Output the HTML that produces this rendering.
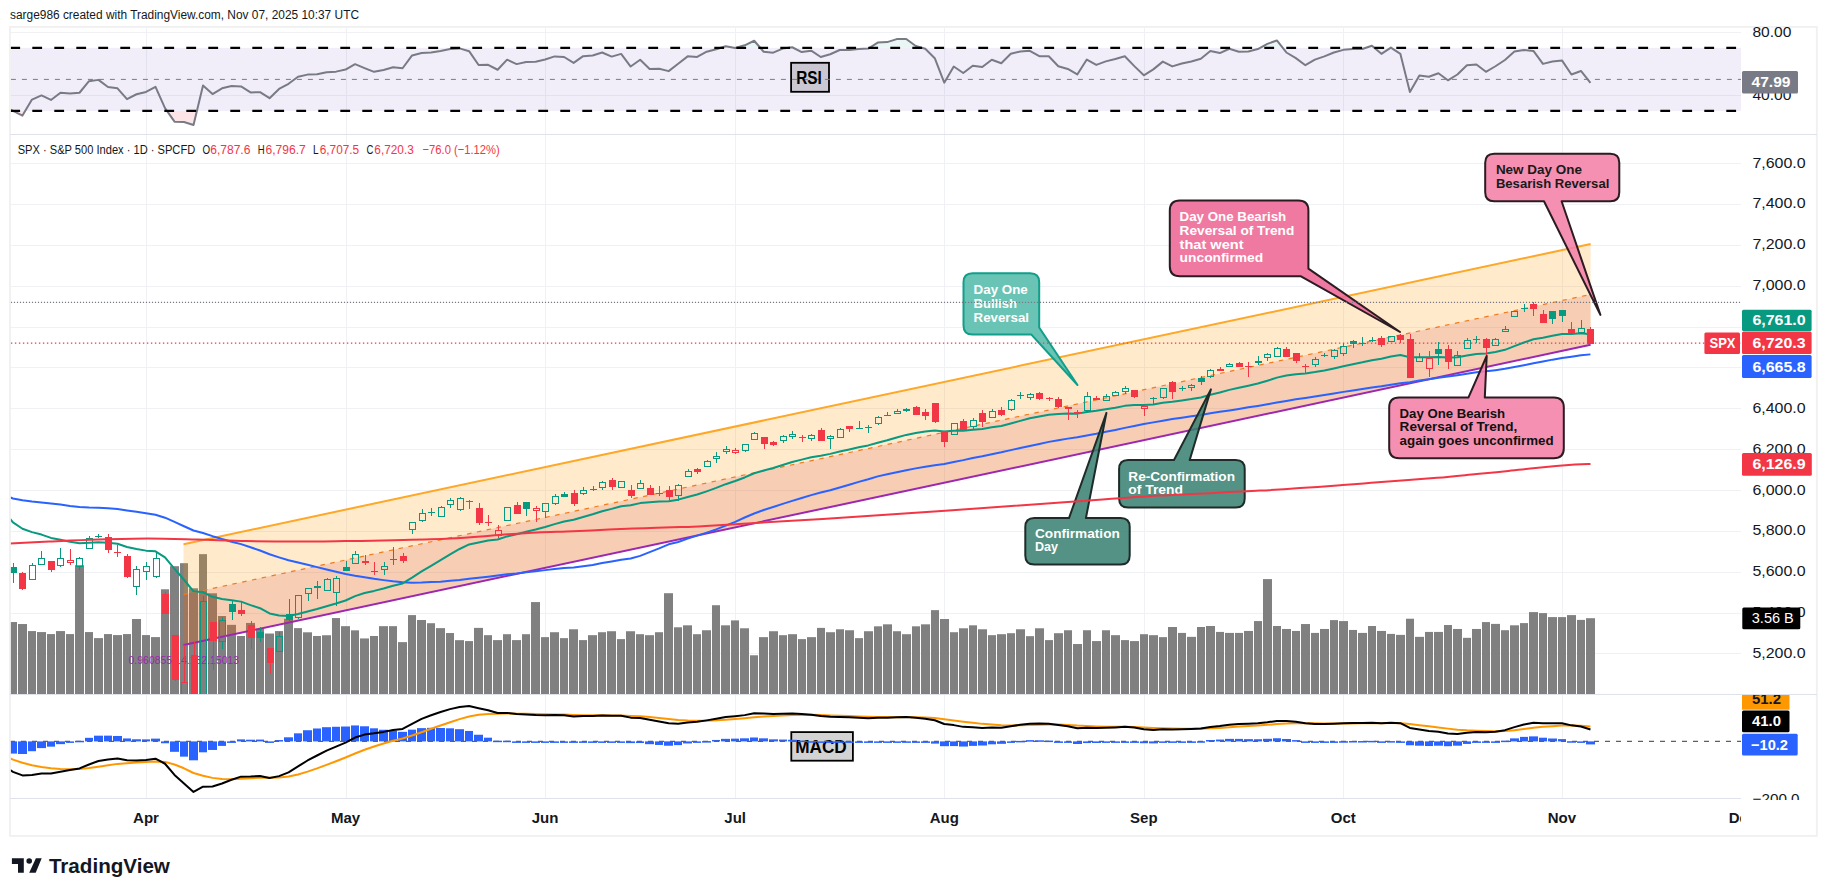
<!DOCTYPE html>
<html><head><meta charset="utf-8"><title>SPX chart</title>
<style>html,body{margin:0;padding:0;background:#fff;}body{width:1827px;height:896px;overflow:hidden;position:relative;font-family:"Liberation Sans", sans-serif;}</style>
</head><body>
<svg width="1827" height="896" viewBox="0 0 1827 896" style="position:absolute;left:0;top:0;font-family:'Liberation Sans', sans-serif">
<defs>
<clipPath id="cpRSI"><rect x="10.9" y="28" width="1730.1" height="105.5"/></clipPath>
<clipPath id="cpMain"><rect x="10.9" y="134.5" width="1730.1" height="559.5"/></clipPath>
<clipPath id="cpMACD"><rect x="10.9" y="694.5" width="1730.1" height="103.5"/></clipPath>
<clipPath id="cpAxR"><rect x="1741" y="695" width="75" height="105"/></clipPath>
<clipPath id="cpTime"><rect x="10.9" y="799" width="1730.1" height="36"/></clipPath>
</defs>
<rect width="1827" height="896" fill="#fff"/>
<text x="10" y="18.7" font-size="12.5" fill="#131722" textLength="349" lengthAdjust="spacingAndGlyphs">sarge986 created with TradingView.com, Nov 07, 2025 10:37 UTC</text>
<rect x="10" y="26.9" width="1806.8" height="809" fill="none" stroke="#F0F0F0" stroke-width="1.8" />
<line x1="146.5" y1="28" x2="146.5" y2="798" stroke="#F0F1F4" stroke-width="1"/>
<line x1="346.5" y1="28" x2="346.5" y2="798" stroke="#F0F1F4" stroke-width="1"/>
<line x1="545.5" y1="28" x2="545.5" y2="798" stroke="#F0F1F4" stroke-width="1"/>
<line x1="735.5" y1="28" x2="735.5" y2="798" stroke="#F0F1F4" stroke-width="1"/>
<line x1="944.5" y1="28" x2="944.5" y2="798" stroke="#F0F1F4" stroke-width="1"/>
<line x1="1144.5" y1="28" x2="1144.5" y2="798" stroke="#F0F1F4" stroke-width="1"/>
<line x1="1343.5" y1="28" x2="1343.5" y2="798" stroke="#F0F1F4" stroke-width="1"/>
<line x1="1562.5" y1="28" x2="1562.5" y2="798" stroke="#F0F1F4" stroke-width="1"/>
<line x1="10.9" y1="32.5" x2="1741" y2="32.5" stroke="#F0F1F4" stroke-width="1"/>
<line x1="10.9" y1="95.5" x2="1741" y2="95.5" stroke="#F0F1F4" stroke-width="1"/>
<line x1="10.9" y1="163.5" x2="1741" y2="163.5" stroke="#F0F1F4" stroke-width="1"/>
<line x1="10.9" y1="204.5" x2="1741" y2="204.5" stroke="#F0F1F4" stroke-width="1"/>
<line x1="10.9" y1="245.5" x2="1741" y2="245.5" stroke="#F0F1F4" stroke-width="1"/>
<line x1="10.9" y1="286.5" x2="1741" y2="286.5" stroke="#F0F1F4" stroke-width="1"/>
<line x1="10.9" y1="327.5" x2="1741" y2="327.5" stroke="#F0F1F4" stroke-width="1"/>
<line x1="10.9" y1="367.5" x2="1741" y2="367.5" stroke="#F0F1F4" stroke-width="1"/>
<line x1="10.9" y1="408.5" x2="1741" y2="408.5" stroke="#F0F1F4" stroke-width="1"/>
<line x1="10.9" y1="449.5" x2="1741" y2="449.5" stroke="#F0F1F4" stroke-width="1"/>
<line x1="10.9" y1="490.5" x2="1741" y2="490.5" stroke="#F0F1F4" stroke-width="1"/>
<line x1="10.9" y1="531.5" x2="1741" y2="531.5" stroke="#F0F1F4" stroke-width="1"/>
<line x1="10.9" y1="572.5" x2="1741" y2="572.5" stroke="#F0F1F4" stroke-width="1"/>
<line x1="10.9" y1="613.5" x2="1741" y2="613.5" stroke="#F0F1F4" stroke-width="1"/>
<line x1="10.9" y1="653.5" x2="1741" y2="653.5" stroke="#F0F1F4" stroke-width="1"/>
<line x1="10" y1="134.5" x2="1817" y2="134.5" stroke="#DFE2EA" stroke-width="1"/>
<line x1="10" y1="694.5" x2="1817" y2="694.5" stroke="#DFE2EA" stroke-width="1"/>
<line x1="10" y1="798.5" x2="1741" y2="798.5" stroke="#DFE2EA" stroke-width="1"/>
<g clip-path="url(#cpRSI)">
<rect x="10.9" y="47.85000000000001" width="1730.1" height="63.099999999999994" fill="rgba(126,87,194,0.1)"/>
<rect x="791.1" y="62.8" width="37.9" height="29" fill="#CAC7D3" stroke="#000" stroke-width="1.8"/>
<line x1="10.9" y1="79.4" x2="1741" y2="79.4" stroke="#787B86" stroke-width="1" stroke-dasharray="5 6"/>
<text x="796.2" y="84" font-size="19" fill="#000" font-weight="bold" textLength="25.6" lengthAdjust="spacingAndGlyphs">RSI</text>
<polygon points="13.17,110.95 22.46,115.59 25.21,110.95" fill="rgba(242,54,69,0.13)"/>
<polygon points="166.98,110.95 174.51,121.65 184.01,122.07 193.51,124.99 196.89,110.95" fill="rgba(242,54,69,0.13)"/>
<polygon points="720.69,47.85 725.68,46.22 734.06,47.85" fill="rgba(8,153,129,0.09)"/>
<polygon points="735.94,47.85 744.69,45.32 754.19,40.75 760.33,47.85" fill="rgba(8,153,129,0.09)"/>
<polygon points="787.84,47.85 792.2,47.26 793.39,47.85" fill="rgba(8,153,129,0.09)"/>
<polygon points="869.39,47.85 877.73,42.58 887.23,42.12 896.74,39.09 906.24,38.94 915.74,46.02 921.95,47.85" fill="rgba(8,153,129,0.09)"/>
<polygon points="1260.03,47.85 1267.35,43.86 1276.86,40.45 1282.7,47.85" fill="rgba(8,153,129,0.09)"/>
<polygon points="1365.72,47.85 1371.89,45.77 1374.33,47.85" fill="rgba(8,153,129,0.09)"/>
<polygon points="1390.52,47.85 1390.89,47.61 1391.26,47.85" fill="rgba(8,153,129,0.09)"/>
<polyline points="10.9,109.69 12.96,110.84 22.46,115.59 31.96,99.57 41.47,95.41 50.97,99.93 60.47,92.79 69.98,93.62 79.48,92.74 88.98,81.19 98.48,79.87 107.99,86.95 117.49,88.35 126.99,99.14 136.5,94.25 146,91.94 155.5,86.84 165.01,108.15 174.51,121.65 184.01,122.07 193.51,124.99 203.02,85.42 212.52,94.08 222.02,88.32 231.53,86.05 241.03,86.42 250.53,92.42 260.04,92.18 269.54,98.16 279.04,88.95 288.55,83.8 298.05,76.8 307.55,74.61 317.05,74.19 326.56,72.18 336.06,71.64 345.56,69.57 355.07,64.17 364.57,68.07 374.07,71.83 383.57,69.96 393.08,67.27 402.58,68.27 412.08,55.43 421.59,52.92 431.09,52.58 440.59,51 450.1,48.98 459.6,48.4 469.1,51.19 478.61,65.01 488.11,64.86 497.61,69.75 507.11,59.67 516.62,64.11 526.12,61.95 535.62,61.72 545.13,59.56 554.63,56.42 564.13,57 573.63,62.86 583.14,56.19 592.64,55.45 602.14,52.47 611.65,56.59 621.15,53.9 630.65,66.53 640.16,59.77 649.66,68.92 659.16,68.71 668.66,71.15 678.17,63.82 687.67,56.36 697.17,56.96 706.68,51.74 716.18,49.32 725.68,46.22 735.19,48.07 744.69,45.32 754.19,40.75 763.7,51.73 773.2,52.7 782.7,48.55 792.2,47.26 801.71,52.03 811.21,50.68 820.71,57.02 830.22,54.21 839.72,50.03 849.22,50.03 858.73,48.94 868.23,48.59 877.73,42.58 887.23,42.12 896.74,39.09 906.24,38.94 915.74,46.02 925.25,48.82 934.75,58.22 944.25,82.68 953.75,66.49 963.26,72.97 972.76,65.69 982.26,67.06 991.77,59.79 1001.27,63.28 1010.77,53.8 1020.28,51.51 1029.78,50.83 1039.28,56.19 1048.78,56.19 1058.29,66.19 1067.79,68.93 1077.29,74.44 1086.8,59.58 1096.3,64.92 1105.8,61.38 1115.31,59.03 1124.81,56.26 1134.31,66.14 1143.82,75.34 1153.32,69.37 1162.82,61.61 1172.32,66.41 1181.83,63.43 1191.33,61.43 1200.83,58.76 1210.34,51.09 1219.84,53.08 1229.34,48.74 1238.85,51.72 1248.35,51.55 1257.85,49.04 1267.35,43.86 1276.86,40.45 1286.36,52.49 1295.86,58.09 1305.37,65.23 1314.87,59.64 1324.37,56.41 1333.88,52.51 1343.38,49.86 1352.88,48.97 1362.38,48.97 1371.89,45.77 1381.39,53.86 1390.89,47.61 1400.4,53.89 1409.9,91.97 1419.4,75.53 1428.9,76.72 1438.41,73.26 1447.91,80.31 1457.41,74.5 1466.92,65.23 1476.42,64.57 1485.92,71.79 1495.43,66.26 1504.93,60.01 1514.43,51.57 1523.93,49.92 1533.44,50.89 1542.94,63.88 1552.44,61.59 1561.95,60.4 1571.45,74.45 1580.95,70.98 1590.46,82.78" fill="none" stroke="#787B86" stroke-width="2" stroke-linejoin="round"/>
<line x1="10.3" y1="47.85" x2="1741" y2="47.85" stroke="#000" stroke-width="2.2" stroke-dasharray="9.8 12.2"/>
<line x1="10.3" y1="110.95" x2="1741" y2="110.95" stroke="#000" stroke-width="2.2" stroke-dasharray="9.8 12.2"/>
</g>
<g clip-path="url(#cpMain)">
<rect x="9" y="622.03" width="8" height="71.97" fill="#808080"/>
<rect x="18" y="624.04" width="9" height="69.96" fill="#808080"/>
<rect x="28" y="631.07" width="8" height="62.93" fill="#808080"/>
<rect x="37" y="632.07" width="9" height="61.93" fill="#808080"/>
<rect x="47" y="634.08" width="8" height="59.92" fill="#808080"/>
<rect x="56" y="631.07" width="9" height="62.93" fill="#808080"/>
<rect x="66" y="634.08" width="8" height="59.92" fill="#808080"/>
<rect x="75" y="565.19" width="9" height="128.81" fill="#808080"/>
<rect x="85" y="632.07" width="8" height="61.93" fill="#808080"/>
<rect x="94" y="638.1" width="9" height="55.9" fill="#808080"/>
<rect x="104" y="634.08" width="8" height="59.92" fill="#808080"/>
<rect x="113" y="635.08" width="9" height="58.92" fill="#808080"/>
<rect x="123" y="634.08" width="8" height="59.92" fill="#808080"/>
<rect x="132" y="619.02" width="9" height="74.98" fill="#808080"/>
<rect x="142" y="635.08" width="8" height="58.92" fill="#808080"/>
<rect x="151" y="637.09" width="9" height="56.91" fill="#808080"/>
<rect x="161" y="589.29" width="8" height="104.71" fill="#808080"/>
<rect x="170" y="566.19" width="9" height="127.81" fill="#808080"/>
<rect x="180" y="563.18" width="8" height="130.82" fill="#808080"/>
<rect x="189" y="588.29" width="9" height="105.71" fill="#808080"/>
<rect x="199" y="554.14" width="8" height="139.86" fill="#808080"/>
<rect x="208" y="593.31" width="9" height="100.69" fill="#808080"/>
<rect x="218" y="616" width="8" height="78" fill="#808080"/>
<rect x="227" y="624.84" width="9" height="69.16" fill="#808080"/>
<rect x="237" y="635.98" width="8" height="58.02" fill="#808080"/>
<rect x="246" y="622.96" width="9" height="71.04" fill="#808080"/>
<rect x="256" y="628.61" width="8" height="65.39" fill="#808080"/>
<rect x="265" y="633.52" width="9" height="60.48" fill="#808080"/>
<rect x="275" y="631.07" width="8" height="62.93" fill="#808080"/>
<rect x="284" y="618.79" width="9" height="75.21" fill="#808080"/>
<rect x="294" y="628.12" width="8" height="65.88" fill="#808080"/>
<rect x="303" y="632.3" width="9" height="61.7" fill="#808080"/>
<rect x="313" y="635.98" width="8" height="58.02" fill="#808080"/>
<rect x="322" y="635.24" width="9" height="58.76" fill="#808080"/>
<rect x="332" y="618.05" width="8" height="75.95" fill="#808080"/>
<rect x="341" y="626.16" width="9" height="67.84" fill="#808080"/>
<rect x="351" y="630.33" width="8" height="63.67" fill="#808080"/>
<rect x="360" y="638.44" width="9" height="55.56" fill="#808080"/>
<rect x="370" y="635.98" width="8" height="58.02" fill="#808080"/>
<rect x="379" y="626.16" width="9" height="67.84" fill="#808080"/>
<rect x="389" y="626.16" width="8" height="67.84" fill="#808080"/>
<rect x="398" y="642.12" width="9" height="51.88" fill="#808080"/>
<rect x="408" y="615.1" width="8" height="78.9" fill="#808080"/>
<rect x="417" y="620.01" width="9" height="73.99" fill="#808080"/>
<rect x="427" y="623.21" width="8" height="70.79" fill="#808080"/>
<rect x="436" y="628.12" width="9" height="65.88" fill="#808080"/>
<rect x="446" y="633.03" width="8" height="60.97" fill="#808080"/>
<rect x="455" y="640.16" width="9" height="53.84" fill="#808080"/>
<rect x="465" y="641.08" width="8" height="52.92" fill="#808080"/>
<rect x="474" y="627.88" width="9" height="66.12" fill="#808080"/>
<rect x="484" y="635.17" width="8" height="58.83" fill="#808080"/>
<rect x="493" y="640.1" width="9" height="53.9" fill="#808080"/>
<rect x="503" y="634.19" width="8" height="59.81" fill="#808080"/>
<rect x="512" y="640.1" width="9" height="53.9" fill="#808080"/>
<rect x="522" y="634.19" width="8" height="59.81" fill="#808080"/>
<rect x="531" y="602.07" width="9" height="91.93" fill="#808080"/>
<rect x="541" y="637.14" width="8" height="56.86" fill="#808080"/>
<rect x="550" y="632.22" width="9" height="61.78" fill="#808080"/>
<rect x="560" y="638.13" width="8" height="55.87" fill="#808080"/>
<rect x="569" y="629.26" width="9" height="64.74" fill="#808080"/>
<rect x="579" y="640.1" width="8" height="53.9" fill="#808080"/>
<rect x="588" y="635.17" width="9" height="58.83" fill="#808080"/>
<rect x="598" y="632.22" width="8" height="61.78" fill="#808080"/>
<rect x="607" y="631.23" width="9" height="62.77" fill="#808080"/>
<rect x="617" y="639.11" width="8" height="54.89" fill="#808080"/>
<rect x="626" y="631.23" width="9" height="62.77" fill="#808080"/>
<rect x="636" y="634.19" width="8" height="59.81" fill="#808080"/>
<rect x="645" y="635.17" width="9" height="58.83" fill="#808080"/>
<rect x="655" y="632.22" width="8" height="61.78" fill="#808080"/>
<rect x="664" y="593.2" width="9" height="100.8" fill="#808080"/>
<rect x="674" y="627.29" width="8" height="66.71" fill="#808080"/>
<rect x="683" y="625.32" width="9" height="68.68" fill="#808080"/>
<rect x="693" y="634.19" width="8" height="59.81" fill="#808080"/>
<rect x="702" y="630.25" width="9" height="63.75" fill="#808080"/>
<rect x="712" y="605.22" width="8" height="88.78" fill="#808080"/>
<rect x="721" y="625.32" width="9" height="68.68" fill="#808080"/>
<rect x="731" y="620.39" width="8" height="73.61" fill="#808080"/>
<rect x="740" y="628.28" width="9" height="65.72" fill="#808080"/>
<rect x="750" y="655.27" width="8" height="38.73" fill="#808080"/>
<rect x="759" y="637.14" width="9" height="56.86" fill="#808080"/>
<rect x="769" y="631.23" width="9" height="62.77" fill="#808080"/>
<rect x="779" y="635.17" width="8" height="58.83" fill="#808080"/>
<rect x="788" y="634.19" width="9" height="59.81" fill="#808080"/>
<rect x="798" y="639.11" width="8" height="54.89" fill="#808080"/>
<rect x="807" y="637.14" width="9" height="56.86" fill="#808080"/>
<rect x="817" y="627.88" width="8" height="66.12" fill="#808080"/>
<rect x="826" y="632.22" width="9" height="61.78" fill="#808080"/>
<rect x="836" y="629.26" width="8" height="64.74" fill="#808080"/>
<rect x="845" y="630.25" width="9" height="63.75" fill="#808080"/>
<rect x="855" y="638.13" width="8" height="55.87" fill="#808080"/>
<rect x="864" y="631.23" width="9" height="62.77" fill="#808080"/>
<rect x="874" y="626.31" width="8" height="67.69" fill="#808080"/>
<rect x="883" y="624.33" width="9" height="69.67" fill="#808080"/>
<rect x="893" y="631.23" width="8" height="62.77" fill="#808080"/>
<rect x="902" y="634.19" width="9" height="59.81" fill="#808080"/>
<rect x="912" y="626.31" width="8" height="67.69" fill="#808080"/>
<rect x="921" y="624.33" width="9" height="69.67" fill="#808080"/>
<rect x="931" y="610.15" width="8" height="83.85" fill="#808080"/>
<rect x="940" y="619.01" width="9" height="74.99" fill="#808080"/>
<rect x="950" y="632.22" width="8" height="61.78" fill="#808080"/>
<rect x="959" y="628.28" width="9" height="65.72" fill="#808080"/>
<rect x="969" y="625.32" width="8" height="68.68" fill="#808080"/>
<rect x="978" y="629.26" width="9" height="64.74" fill="#808080"/>
<rect x="988" y="635.17" width="8" height="58.83" fill="#808080"/>
<rect x="997" y="634.19" width="9" height="59.81" fill="#808080"/>
<rect x="1007" y="633.2" width="8" height="60.8" fill="#808080"/>
<rect x="1016" y="629.26" width="9" height="64.74" fill="#808080"/>
<rect x="1026" y="636.16" width="8" height="57.84" fill="#808080"/>
<rect x="1035" y="628.28" width="9" height="65.72" fill="#808080"/>
<rect x="1045" y="640.1" width="8" height="53.9" fill="#808080"/>
<rect x="1054" y="633.2" width="9" height="60.8" fill="#808080"/>
<rect x="1064" y="630.25" width="8" height="63.75" fill="#808080"/>
<rect x="1073" y="644.04" width="9" height="49.96" fill="#808080"/>
<rect x="1083" y="630.25" width="8" height="63.75" fill="#808080"/>
<rect x="1092" y="641.08" width="9" height="52.92" fill="#808080"/>
<rect x="1102" y="630.25" width="8" height="63.75" fill="#808080"/>
<rect x="1111" y="635.17" width="9" height="58.83" fill="#808080"/>
<rect x="1121" y="640.1" width="8" height="53.9" fill="#808080"/>
<rect x="1130" y="641.08" width="9" height="52.92" fill="#808080"/>
<rect x="1140" y="634.19" width="8" height="59.81" fill="#808080"/>
<rect x="1149" y="635.17" width="9" height="58.83" fill="#808080"/>
<rect x="1159" y="637.14" width="8" height="56.86" fill="#808080"/>
<rect x="1168" y="627" width="9" height="67" fill="#808080"/>
<rect x="1178" y="632.91" width="8" height="61.09" fill="#808080"/>
<rect x="1187" y="636.85" width="9" height="57.15" fill="#808080"/>
<rect x="1197" y="627" width="8" height="67" fill="#808080"/>
<rect x="1206" y="626.01" width="9" height="67.99" fill="#808080"/>
<rect x="1216" y="631.92" width="8" height="62.08" fill="#808080"/>
<rect x="1225" y="632.91" width="9" height="61.09" fill="#808080"/>
<rect x="1235" y="632.91" width="8" height="61.09" fill="#808080"/>
<rect x="1244" y="630.94" width="9" height="63.06" fill="#808080"/>
<rect x="1254" y="621.08" width="8" height="72.92" fill="#808080"/>
<rect x="1263" y="579.11" width="9" height="114.89" fill="#808080"/>
<rect x="1273" y="626.01" width="8" height="67.99" fill="#808080"/>
<rect x="1282" y="628.97" width="9" height="65.03" fill="#808080"/>
<rect x="1292" y="630.94" width="8" height="63.06" fill="#808080"/>
<rect x="1301" y="624.04" width="9" height="69.96" fill="#808080"/>
<rect x="1311" y="632.91" width="8" height="61.09" fill="#808080"/>
<rect x="1320" y="628.97" width="9" height="65.03" fill="#808080"/>
<rect x="1330" y="620.1" width="8" height="73.9" fill="#808080"/>
<rect x="1339" y="621.08" width="9" height="72.92" fill="#808080"/>
<rect x="1349" y="629.95" width="8" height="64.05" fill="#808080"/>
<rect x="1358" y="632.91" width="9" height="61.09" fill="#808080"/>
<rect x="1368" y="626.01" width="8" height="67.99" fill="#808080"/>
<rect x="1377" y="630.94" width="9" height="63.06" fill="#808080"/>
<rect x="1387" y="633.89" width="8" height="60.11" fill="#808080"/>
<rect x="1396" y="634.88" width="9" height="59.12" fill="#808080"/>
<rect x="1406" y="618.72" width="8" height="75.28" fill="#808080"/>
<rect x="1415" y="636.85" width="9" height="57.15" fill="#808080"/>
<rect x="1425" y="631.92" width="8" height="62.08" fill="#808080"/>
<rect x="1434" y="631.92" width="9" height="62.08" fill="#808080"/>
<rect x="1444" y="625.02" width="8" height="68.98" fill="#808080"/>
<rect x="1453" y="628.97" width="9" height="65.03" fill="#808080"/>
<rect x="1463" y="637.83" width="8" height="56.17" fill="#808080"/>
<rect x="1472" y="628.97" width="9" height="65.03" fill="#808080"/>
<rect x="1482" y="622.07" width="8" height="71.93" fill="#808080"/>
<rect x="1491" y="623.9" width="9" height="70.1" fill="#808080"/>
<rect x="1501" y="630.2" width="8" height="63.8" fill="#808080"/>
<rect x="1510" y="625.3" width="9" height="68.7" fill="#808080"/>
<rect x="1520" y="623.1" width="8" height="70.9" fill="#808080"/>
<rect x="1529" y="612.1" width="9" height="81.9" fill="#808080"/>
<rect x="1539" y="613.1" width="8" height="80.9" fill="#808080"/>
<rect x="1548" y="617.1" width="9" height="76.9" fill="#808080"/>
<rect x="1558" y="617.1" width="8" height="76.9" fill="#808080"/>
<rect x="1567" y="615.1" width="9" height="78.9" fill="#808080"/>
<rect x="1577" y="619.9" width="8" height="74.1" fill="#808080"/>
<rect x="1586" y="618.2" width="9" height="75.8" fill="#808080"/>
<text x="128.5" y="663.6" font-size="11.5" fill="#9C27B0" textLength="110.7" lengthAdjust="spacingAndGlyphs">0.960855 14.152.15013</text>
<polygon points="183.5,544.2 1590.6,244.02 1590.6,344.82 183.5,645" fill="rgba(255,152,0,0.2)"/>
<polygon points="183.5,594.6 1590.6,294.42 1590.6,344.82 183.5,645" fill="rgba(202,41,44,0.15)"/>
<line x1="183.5" y1="544.2" x2="1590.6" y2="244.02" stroke="#FFA726" stroke-width="2"/>
<line x1="183.5" y1="594.6" x2="1590.6" y2="294.42" stroke="#F07A1E" stroke-width="1.2" stroke-dasharray="4.5 5.5"/>
<line x1="183.5" y1="645" x2="1590.6" y2="344.82" stroke="#9C27B0" stroke-width="2"/>
<polyline points="9.9,497.3 12.96,498.48 22.46,500.26 31.96,501.55 41.47,502.42 50.97,503.48 60.47,504.6 69.98,505.89 79.48,506.89 88.98,507.53 98.48,507.75 107.99,508.28 117.49,508.9 126.99,510.43 136.5,511.77 146,513.27 155.5,514.83 165.01,517.67 174.51,521.96 184.01,526.22 193.51,530.49 203.02,533 212.52,536.17 222.02,539.08 231.53,541.7 241.03,544.15 250.53,547.28 260.04,550.49 269.54,554.29 279.04,557.33 288.55,560.19 298.05,562.58 307.55,564.75 317.05,567.15 326.56,569.42 336.06,571.7 345.56,573.92 355.07,575.69 364.57,577.21 374.07,578.78 383.57,580.13 393.08,581.34 402.58,582.2 412.08,582.66 421.59,582.51 431.09,582.05 440.59,581.74 450.1,580.87 459.6,580.09 469.1,578.76 478.61,577.67 488.11,576.67 497.61,575.5 507.11,574.34 516.62,573.47 526.12,572.25 535.62,571.25 545.13,570.13 554.63,568.89 564.13,568.05 573.63,567.41 583.14,566.22 592.64,564.94 602.14,563.05 611.65,561.39 621.15,559.71 630.65,558.47 640.16,555.84 649.66,552.14 659.16,548.38 668.66,544.31 678.17,541.99 687.67,538.6 697.17,535.63 706.68,532.6 716.18,529.44 725.68,525.64 735.19,521.89 744.69,517.52 754.19,513.46 763.7,509.94 773.2,506.93 782.7,503.9 792.2,500.85 801.71,498.01 811.21,495.16 820.71,492.55 830.22,490.19 839.72,487.52 849.22,484.67 858.73,481.89 868.23,479.25 877.73,476.37 887.23,474.26 896.74,472.21 906.24,470.19 915.74,468.36 925.25,466.69 934.75,465.18 944.25,463.98 953.75,461.99 963.26,460.14 972.76,457.94 982.26,456.24 991.77,454.19 1001.27,452.31 1010.77,450.14 1020.28,447.99 1029.78,445.95 1039.28,443.99 1048.78,441.88 1058.29,440.22 1067.79,438.63 1077.29,437.27 1086.8,435.45 1096.3,433.84 1105.8,431.84 1115.31,430.02 1124.81,427.89 1134.31,425.94 1143.82,424.1 1153.32,422.36 1162.82,420.69 1172.32,419.1 1181.83,417.65 1191.33,416.24 1200.83,414.91 1210.34,413.3 1219.84,411.84 1229.34,410.46 1238.85,408.92 1248.35,407.36 1257.85,405.89 1267.35,404.31 1276.86,402.52 1286.36,400.94 1295.86,399.34 1305.37,397.94 1314.87,396.55 1324.37,395.06 1333.88,393.5 1343.38,391.88 1352.88,390.42 1362.38,388.97 1371.89,387.55 1381.39,386.23 1390.89,384.66 1400.4,383.14 1409.9,382.25 1419.4,380.55 1428.9,379.25 1438.41,377.72 1447.91,376.57 1457.41,375.23 1466.92,373.81 1476.42,372.3 1485.92,371.26 1495.43,370.14 1504.93,368.82 1514.43,367.08 1523.93,365.26 1533.44,363.3 1542.94,361.56 1552.44,359.64 1561.95,358.06 1571.45,356.71 1580.95,355.35 1590.46,354.38" fill="none" stroke="#2962FF" stroke-width="2" stroke-linejoin="round"/>
<polyline points="9.9,518.5 12.96,522.42 22.46,528.73 31.96,532.15 41.47,534.57 50.97,537.9 60.47,539.78 69.98,541.66 79.48,543.23 88.98,542.78 98.48,542.14 107.99,542.86 117.49,543.78 126.99,546.93 136.5,549.05 146,550.63 155.5,551.29 165.01,557.3 174.51,568.95 184.01,579.75 193.51,591.27 203.02,592.23 212.52,596.83 222.02,599.08 231.53,600.34 241.03,601.63 250.53,605.14 260.04,608.24 269.54,613.45 279.04,615.6 288.55,615.97 298.05,614.02 307.55,611.5 317.05,609.08 326.56,606.26 336.06,603.55 345.56,600.49 355.07,596.08 364.57,592.93 374.07,590.9 383.57,588.57 393.08,585.77 402.58,583.41 412.08,577.59 421.59,571.45 431.09,565.78 440.59,560.14 450.1,554.38 459.6,548.98 469.1,544.47 478.61,542.41 488.11,540.51 497.61,539.55 507.11,536.41 516.62,534.25 526.12,531.81 535.62,529.54 545.13,527.03 554.63,524.09 564.13,521.49 573.63,519.81 583.14,516.99 592.64,514.28 602.14,511.22 611.65,508.88 621.15,506.25 630.65,505.23 640.16,503.11 649.66,502.31 659.16,501.54 668.66,501.14 678.17,499.64 687.67,496.92 697.17,494.52 706.68,491.33 716.18,487.93 725.68,484.18 735.19,480.96 744.69,477.46 754.19,473.26 763.7,470.44 773.2,467.97 782.7,464.95 792.2,461.96 801.71,459.65 811.21,457.33 820.71,455.75 830.22,453.89 839.72,451.55 849.22,449.43 858.73,447.34 868.23,445.4 877.73,442.72 887.23,440.22 896.74,437.44 906.24,434.9 915.74,432.99 925.25,431.41 934.75,430.52 944.25,431.59 953.75,430.81 963.26,430.73 972.76,429.74 982.26,428.97 991.77,427.29 1001.27,426.07 1010.77,423.55 1020.28,420.87 1029.78,418.33 1039.28,416.45 1048.78,414.75 1058.29,414 1067.79,413.56 1077.29,413.63 1086.8,411.9 1096.3,410.82 1105.8,409.36 1115.31,407.73 1124.81,405.86 1134.31,404.98 1143.82,405.04 1153.32,404.4 1162.82,402.81 1172.32,401.8 1181.83,400.5 1191.33,399.07 1200.83,397.42 1210.34,394.8 1219.84,392.58 1229.34,389.89 1238.85,387.68 1248.35,385.65 1257.85,383.46 1267.35,380.7 1276.86,377.61 1286.36,375.6 1295.86,374.18 1305.37,373.44 1314.87,372.1 1324.37,370.48 1333.88,368.49 1343.38,366.31 1352.88,364.21 1362.38,362.32 1371.89,360.18 1381.39,358.7 1390.89,356.57 1400.4,355.03 1409.9,357.18 1419.4,357.15 1428.9,357.27 1438.41,356.92 1447.91,357.45 1457.41,357.18 1466.92,355.58 1476.42,354.02 1485.92,353.41 1495.43,352.05 1504.93,349.81 1514.43,346.15 1523.93,342.49 1533.44,339.27 1542.94,337.67 1552.44,335.85 1561.95,334.01 1571.45,333.89 1580.95,333.29 1590.46,334.27" fill="none" stroke="#089981" stroke-width="2" stroke-linejoin="round"/>
<line x1="13.5" y1="563" x2="13.5" y2="583" stroke="#089981" stroke-width="1"/>
<rect x="10.0" y="567" width="7" height="6" fill="#089981"/>
<line x1="22.5" y1="572" x2="22.5" y2="590" stroke="#F23645" stroke-width="1"/>
<rect x="19.0" y="573" width="7" height="16" fill="#F23645"/>
<line x1="32.5" y1="563" x2="32.5" y2="565" stroke="#089981" stroke-width="1"/>
<rect x="29.5" y="565.5" width="6" height="14" fill="none" stroke="#089981" stroke-width="1"/>
<line x1="41.5" y1="551" x2="41.5" y2="558" stroke="#089981" stroke-width="1"/>
<rect x="38.5" y="558.5" width="6" height="6" fill="none" stroke="#089981" stroke-width="1"/>
<line x1="51.5" y1="561" x2="51.5" y2="572" stroke="#F23645" stroke-width="1"/>
<rect x="48.0" y="561" width="7" height="9" fill="#F23645"/>
<line x1="60.5" y1="548" x2="60.5" y2="558" stroke="#089981" stroke-width="1"/>
<line x1="60.5" y1="566" x2="60.5" y2="567" stroke="#089981" stroke-width="1"/>
<rect x="57.5" y="558.5" width="6" height="7" fill="none" stroke="#089981" stroke-width="1"/>
<line x1="70.5" y1="549" x2="70.5" y2="560" stroke="#F23645" stroke-width="1"/>
<line x1="70.5" y1="563" x2="70.5" y2="565" stroke="#F23645" stroke-width="1"/>
<rect x="67.5" y="560.5" width="6" height="2" fill="none" stroke="#F23645" stroke-width="1"/>
<line x1="79.5" y1="557" x2="79.5" y2="558" stroke="#089981" stroke-width="1"/>
<line x1="79.5" y1="567" x2="79.5" y2="570" stroke="#089981" stroke-width="1"/>
<rect x="76.5" y="558.5" width="6" height="8" fill="none" stroke="#089981" stroke-width="1"/>
<line x1="89.5" y1="536" x2="89.5" y2="538" stroke="#089981" stroke-width="1"/>
<rect x="86.5" y="538.5" width="6" height="10" fill="none" stroke="#089981" stroke-width="1"/>
<line x1="98.5" y1="534" x2="98.5" y2="538" stroke="#089981" stroke-width="1"/>
<rect x="95.0" y="536" width="7" height="1" fill="#089981"/>
<line x1="108.5" y1="534" x2="108.5" y2="553" stroke="#F23645" stroke-width="1"/>
<rect x="105.0" y="537" width="7" height="13" fill="#F23645"/>
<line x1="117.5" y1="545" x2="117.5" y2="557" stroke="#F23645" stroke-width="1"/>
<rect x="114.0" y="552" width="7" height="1" fill="#F23645"/>
<line x1="127.5" y1="554" x2="127.5" y2="578" stroke="#F23645" stroke-width="1"/>
<rect x="124.0" y="556" width="7" height="21" fill="#F23645"/>
<line x1="136.5" y1="566" x2="136.5" y2="569" stroke="#089981" stroke-width="1"/>
<line x1="136.5" y1="587" x2="136.5" y2="595" stroke="#089981" stroke-width="1"/>
<rect x="133.5" y="569.5" width="6" height="17" fill="none" stroke="#089981" stroke-width="1"/>
<line x1="146.5" y1="562" x2="146.5" y2="566" stroke="#089981" stroke-width="1"/>
<line x1="146.5" y1="572" x2="146.5" y2="580" stroke="#089981" stroke-width="1"/>
<rect x="143.5" y="566.5" width="6" height="5" fill="none" stroke="#089981" stroke-width="1"/>
<line x1="156.5" y1="552" x2="156.5" y2="558" stroke="#089981" stroke-width="1"/>
<line x1="156.5" y1="577" x2="156.5" y2="578" stroke="#089981" stroke-width="1"/>
<rect x="153.5" y="558.5" width="6" height="18" fill="none" stroke="#089981" stroke-width="1"/>
<line x1="165.5" y1="592" x2="165.5" y2="614" stroke="#F23645" stroke-width="1"/>
<rect x="162.0" y="594" width="7" height="20" fill="#F23645"/>
<line x1="175.5" y1="635" x2="175.5" y2="681" stroke="#F23645" stroke-width="1"/>
<rect x="172.0" y="635" width="7" height="45" fill="#F23645"/>
<line x1="184.5" y1="645" x2="184.5" y2="682" stroke="#F23645" stroke-width="1"/>
<rect x="181.5" y="682.5" width="6" height="18" fill="none" stroke="#F23645" stroke-width="1"/>
<line x1="194.5" y1="641" x2="194.5" y2="701" stroke="#F23645" stroke-width="1"/>
<rect x="191.0" y="655" width="7" height="46" fill="#F23645"/>
<line x1="203.5" y1="596" x2="203.5" y2="601" stroke="#089981" stroke-width="1"/>
<rect x="200.5" y="601.5" width="6" height="99" fill="none" stroke="#089981" stroke-width="1"/>
<line x1="213.5" y1="622" x2="213.5" y2="670" stroke="#F23645" stroke-width="1"/>
<rect x="210.0" y="622" width="7" height="19" fill="#F23645"/>
<line x1="222.5" y1="617" x2="222.5" y2="620" stroke="#089981" stroke-width="1"/>
<line x1="222.5" y1="642" x2="222.5" y2="649" stroke="#089981" stroke-width="1"/>
<rect x="219.5" y="620.5" width="6" height="21" fill="none" stroke="#089981" stroke-width="1"/>
<line x1="232.5" y1="601" x2="232.5" y2="620" stroke="#089981" stroke-width="1"/>
<rect x="229.0" y="604" width="7" height="8" fill="#089981"/>
<line x1="241.5" y1="602" x2="241.5" y2="616" stroke="#F23645" stroke-width="1"/>
<rect x="238.0" y="610" width="7" height="4" fill="#F23645"/>
<line x1="251.5" y1="621" x2="251.5" y2="649" stroke="#F23645" stroke-width="1"/>
<rect x="248.0" y="625" width="7" height="13" fill="#F23645"/>
<line x1="260.5" y1="627" x2="260.5" y2="642" stroke="#089981" stroke-width="1"/>
<rect x="257.0" y="632" width="7" height="6" fill="#089981"/>
<line x1="270.5" y1="648" x2="270.5" y2="674" stroke="#F23645" stroke-width="1"/>
<rect x="267.0" y="648" width="7" height="15" fill="#F23645"/>
<line x1="279.5" y1="632" x2="279.5" y2="636" stroke="#089981" stroke-width="1"/>
<rect x="276.5" y="636.5" width="6" height="15" fill="none" stroke="#089981" stroke-width="1"/>
<line x1="289.5" y1="599" x2="289.5" y2="622" stroke="#089981" stroke-width="1"/>
<rect x="286.0" y="614" width="7" height="6" fill="#089981"/>
<line x1="298.5" y1="618" x2="298.5" y2="619" stroke="#089981" stroke-width="1"/>
<rect x="295.5" y="595.5" width="6" height="22" fill="none" stroke="#089981" stroke-width="1"/>
<line x1="308.5" y1="594" x2="308.5" y2="601" stroke="#089981" stroke-width="1"/>
<rect x="305.5" y="588.5" width="6" height="5" fill="none" stroke="#089981" stroke-width="1"/>
<line x1="317.5" y1="581" x2="317.5" y2="599" stroke="#089981" stroke-width="1"/>
<rect x="314.0" y="586" width="7" height="2" fill="#089981"/>
<line x1="327.5" y1="578" x2="327.5" y2="579" stroke="#089981" stroke-width="1"/>
<rect x="324.5" y="579.5" width="6" height="11" fill="none" stroke="#089981" stroke-width="1"/>
<line x1="336.5" y1="576" x2="336.5" y2="578" stroke="#089981" stroke-width="1"/>
<line x1="336.5" y1="593" x2="336.5" y2="606" stroke="#089981" stroke-width="1"/>
<rect x="333.5" y="578.5" width="6" height="14" fill="none" stroke="#089981" stroke-width="1"/>
<line x1="346.5" y1="561" x2="346.5" y2="571" stroke="#089981" stroke-width="1"/>
<rect x="343.0" y="567" width="7" height="4" fill="#089981"/>
<line x1="355.5" y1="551" x2="355.5" y2="554" stroke="#089981" stroke-width="1"/>
<rect x="352.5" y="554.5" width="6" height="9" fill="none" stroke="#089981" stroke-width="1"/>
<line x1="365.5" y1="555" x2="365.5" y2="565" stroke="#F23645" stroke-width="1"/>
<rect x="362.0" y="561" width="7" height="2" fill="#F23645"/>
<line x1="374.5" y1="562" x2="374.5" y2="575" stroke="#F23645" stroke-width="1"/>
<rect x="371.0" y="571" width="7" height="1" fill="#F23645"/>
<line x1="384.5" y1="562" x2="384.5" y2="566" stroke="#089981" stroke-width="1"/>
<line x1="384.5" y1="570" x2="384.5" y2="575" stroke="#089981" stroke-width="1"/>
<rect x="381.5" y="566.5" width="6" height="3" fill="none" stroke="#089981" stroke-width="1"/>
<line x1="393.5" y1="547" x2="393.5" y2="565" stroke="#089981" stroke-width="1"/>
<rect x="390.0" y="559" width="7" height="1" fill="#089981"/>
<line x1="403.5" y1="553" x2="403.5" y2="563" stroke="#F23645" stroke-width="1"/>
<rect x="400.0" y="556" width="7" height="5" fill="#F23645"/>
<line x1="412.5" y1="530" x2="412.5" y2="534" stroke="#089981" stroke-width="1"/>
<rect x="409.5" y="522.5" width="6" height="7" fill="none" stroke="#089981" stroke-width="1"/>
<line x1="422.5" y1="509" x2="422.5" y2="513" stroke="#089981" stroke-width="1"/>
<line x1="422.5" y1="521" x2="422.5" y2="522" stroke="#089981" stroke-width="1"/>
<rect x="419.5" y="513.5" width="6" height="7" fill="none" stroke="#089981" stroke-width="1"/>
<line x1="431.5" y1="508" x2="431.5" y2="516" stroke="#089981" stroke-width="1"/>
<rect x="428.0" y="512" width="7" height="1" fill="#089981"/>
<line x1="441.5" y1="506" x2="441.5" y2="507" stroke="#089981" stroke-width="1"/>
<rect x="438.5" y="507.5" width="6" height="9" fill="none" stroke="#089981" stroke-width="1"/>
<line x1="450.5" y1="498" x2="450.5" y2="500" stroke="#089981" stroke-width="1"/>
<line x1="450.5" y1="505" x2="450.5" y2="508" stroke="#089981" stroke-width="1"/>
<rect x="447.5" y="500.5" width="6" height="4" fill="none" stroke="#089981" stroke-width="1"/>
<line x1="460.5" y1="497" x2="460.5" y2="498" stroke="#089981" stroke-width="1"/>
<line x1="460.5" y1="510" x2="460.5" y2="511" stroke="#089981" stroke-width="1"/>
<rect x="457.5" y="498.5" width="6" height="11" fill="none" stroke="#089981" stroke-width="1"/>
<line x1="469.5" y1="500" x2="469.5" y2="509" stroke="#F23645" stroke-width="1"/>
<rect x="466.0" y="501" width="7" height="1" fill="#F23645"/>
<line x1="479.5" y1="503" x2="479.5" y2="525" stroke="#F23645" stroke-width="1"/>
<rect x="476.0" y="508" width="7" height="15" fill="#F23645"/>
<line x1="488.5" y1="515" x2="488.5" y2="526" stroke="#F23645" stroke-width="1"/>
<rect x="485.0" y="522" width="7" height="1" fill="#F23645"/>
<line x1="498.5" y1="525" x2="498.5" y2="530" stroke="#F23645" stroke-width="1"/>
<line x1="498.5" y1="536" x2="498.5" y2="538" stroke="#F23645" stroke-width="1"/>
<rect x="495.5" y="530.5" width="6" height="5" fill="none" stroke="#F23645" stroke-width="1"/>
<rect x="504.5" y="507.5" width="6" height="13" fill="none" stroke="#089981" stroke-width="1"/>
<line x1="517.5" y1="502" x2="517.5" y2="514" stroke="#F23645" stroke-width="1"/>
<rect x="514.0" y="505" width="7" height="9" fill="#F23645"/>
<line x1="526.5" y1="502" x2="526.5" y2="516" stroke="#089981" stroke-width="1"/>
<rect x="523.0" y="502" width="7" height="7" fill="#089981"/>
<line x1="536.5" y1="506" x2="536.5" y2="508" stroke="#F23645" stroke-width="1"/>
<line x1="536.5" y1="511" x2="536.5" y2="522" stroke="#F23645" stroke-width="1"/>
<rect x="533.5" y="508.5" width="6" height="2" fill="none" stroke="#F23645" stroke-width="1"/>
<line x1="545.5" y1="512" x2="545.5" y2="518" stroke="#089981" stroke-width="1"/>
<rect x="542.5" y="503.5" width="6" height="8" fill="none" stroke="#089981" stroke-width="1"/>
<line x1="555.5" y1="494" x2="555.5" y2="496" stroke="#089981" stroke-width="1"/>
<line x1="555.5" y1="504" x2="555.5" y2="505" stroke="#089981" stroke-width="1"/>
<rect x="552.5" y="496.5" width="6" height="7" fill="none" stroke="#089981" stroke-width="1"/>
<line x1="564.5" y1="492" x2="564.5" y2="497" stroke="#089981" stroke-width="1"/>
<rect x="561.0" y="494" width="7" height="3" fill="#089981"/>
<line x1="574.5" y1="490" x2="574.5" y2="506" stroke="#F23645" stroke-width="1"/>
<rect x="571.0" y="493" width="7" height="11" fill="#F23645"/>
<line x1="583.5" y1="487" x2="583.5" y2="490" stroke="#089981" stroke-width="1"/>
<line x1="583.5" y1="494" x2="583.5" y2="495" stroke="#089981" stroke-width="1"/>
<rect x="580.5" y="490.5" width="6" height="3" fill="none" stroke="#089981" stroke-width="1"/>
<line x1="593.5" y1="486" x2="593.5" y2="491" stroke="#089981" stroke-width="1"/>
<rect x="590.0" y="489" width="7" height="1" fill="#089981"/>
<line x1="602.5" y1="481" x2="602.5" y2="482" stroke="#089981" stroke-width="1"/>
<line x1="602.5" y1="488" x2="602.5" y2="490" stroke="#089981" stroke-width="1"/>
<rect x="599.5" y="482.5" width="6" height="5" fill="none" stroke="#089981" stroke-width="1"/>
<line x1="612.5" y1="478" x2="612.5" y2="490" stroke="#F23645" stroke-width="1"/>
<rect x="609.0" y="480" width="7" height="7" fill="#F23645"/>
<rect x="618.5" y="481.5" width="6" height="6" fill="none" stroke="#089981" stroke-width="1"/>
<line x1="631.5" y1="485" x2="631.5" y2="498" stroke="#F23645" stroke-width="1"/>
<rect x="628.0" y="490" width="7" height="6" fill="#F23645"/>
<line x1="640.5" y1="480" x2="640.5" y2="483" stroke="#089981" stroke-width="1"/>
<rect x="637.5" y="483.5" width="6" height="5" fill="none" stroke="#089981" stroke-width="1"/>
<line x1="650.5" y1="485" x2="650.5" y2="495" stroke="#F23645" stroke-width="1"/>
<rect x="647.0" y="488" width="7" height="7" fill="#F23645"/>
<line x1="659.5" y1="486" x2="659.5" y2="496" stroke="#F23645" stroke-width="1"/>
<rect x="656.0" y="493" width="7" height="1" fill="#F23645"/>
<line x1="669.5" y1="486" x2="669.5" y2="500" stroke="#F23645" stroke-width="1"/>
<rect x="666.0" y="490" width="7" height="7" fill="#F23645"/>
<line x1="678.5" y1="484" x2="678.5" y2="485" stroke="#089981" stroke-width="1"/>
<line x1="678.5" y1="496" x2="678.5" y2="501" stroke="#089981" stroke-width="1"/>
<rect x="675.5" y="485.5" width="6" height="10" fill="none" stroke="#089981" stroke-width="1"/>
<line x1="688.5" y1="469" x2="688.5" y2="471" stroke="#089981" stroke-width="1"/>
<rect x="685.5" y="471.5" width="6" height="5" fill="none" stroke="#089981" stroke-width="1"/>
<line x1="697.5" y1="468" x2="697.5" y2="474" stroke="#F23645" stroke-width="1"/>
<rect x="694.0" y="469" width="7" height="3" fill="#F23645"/>
<line x1="707.5" y1="460" x2="707.5" y2="461" stroke="#089981" stroke-width="1"/>
<rect x="704.5" y="461.5" width="6" height="5" fill="none" stroke="#089981" stroke-width="1"/>
<line x1="716.5" y1="452" x2="716.5" y2="456" stroke="#089981" stroke-width="1"/>
<line x1="716.5" y1="459" x2="716.5" y2="463" stroke="#089981" stroke-width="1"/>
<rect x="713.5" y="456.5" width="6" height="2" fill="none" stroke="#089981" stroke-width="1"/>
<line x1="726.5" y1="446" x2="726.5" y2="449" stroke="#089981" stroke-width="1"/>
<line x1="726.5" y1="452" x2="726.5" y2="454" stroke="#089981" stroke-width="1"/>
<rect x="723.5" y="449.5" width="6" height="2" fill="none" stroke="#089981" stroke-width="1"/>
<line x1="735.5" y1="448" x2="735.5" y2="450" stroke="#F23645" stroke-width="1"/>
<line x1="735.5" y1="453" x2="735.5" y2="454" stroke="#F23645" stroke-width="1"/>
<rect x="732.5" y="450.5" width="6" height="2" fill="none" stroke="#F23645" stroke-width="1"/>
<line x1="745.5" y1="451" x2="745.5" y2="452" stroke="#089981" stroke-width="1"/>
<rect x="742.5" y="444.5" width="6" height="6" fill="none" stroke="#089981" stroke-width="1"/>
<line x1="754.5" y1="432" x2="754.5" y2="433" stroke="#089981" stroke-width="1"/>
<rect x="751.5" y="433.5" width="6" height="6" fill="none" stroke="#089981" stroke-width="1"/>
<line x1="764.5" y1="437" x2="764.5" y2="449" stroke="#F23645" stroke-width="1"/>
<rect x="761.0" y="437" width="7" height="7" fill="#F23645"/>
<line x1="773.5" y1="441" x2="773.5" y2="446" stroke="#F23645" stroke-width="1"/>
<rect x="770.0" y="442" width="7" height="3" fill="#F23645"/>
<line x1="783.5" y1="435" x2="783.5" y2="436" stroke="#089981" stroke-width="1"/>
<line x1="783.5" y1="441" x2="783.5" y2="443" stroke="#089981" stroke-width="1"/>
<rect x="780.5" y="436.5" width="6" height="4" fill="none" stroke="#089981" stroke-width="1"/>
<line x1="792.5" y1="431" x2="792.5" y2="434" stroke="#089981" stroke-width="1"/>
<line x1="792.5" y1="437" x2="792.5" y2="439" stroke="#089981" stroke-width="1"/>
<rect x="789.5" y="434.5" width="6" height="2" fill="none" stroke="#089981" stroke-width="1"/>
<line x1="802.5" y1="435" x2="802.5" y2="442" stroke="#F23645" stroke-width="1"/>
<rect x="799.0" y="437" width="7" height="1" fill="#F23645"/>
<line x1="811.5" y1="434" x2="811.5" y2="435" stroke="#089981" stroke-width="1"/>
<line x1="811.5" y1="439" x2="811.5" y2="441" stroke="#089981" stroke-width="1"/>
<rect x="808.5" y="435.5" width="6" height="3" fill="none" stroke="#089981" stroke-width="1"/>
<line x1="821.5" y1="428" x2="821.5" y2="441" stroke="#F23645" stroke-width="1"/>
<rect x="818.0" y="430" width="7" height="11" fill="#F23645"/>
<line x1="830.5" y1="435" x2="830.5" y2="436" stroke="#089981" stroke-width="1"/>
<line x1="830.5" y1="439" x2="830.5" y2="449" stroke="#089981" stroke-width="1"/>
<rect x="827.5" y="436.5" width="6" height="2" fill="none" stroke="#089981" stroke-width="1"/>
<line x1="840.5" y1="428" x2="840.5" y2="429" stroke="#089981" stroke-width="1"/>
<rect x="837.5" y="429.5" width="6" height="8" fill="none" stroke="#089981" stroke-width="1"/>
<line x1="849.5" y1="426" x2="849.5" y2="432" stroke="#F23645" stroke-width="1"/>
<rect x="846.0" y="426" width="7" height="3" fill="#F23645"/>
<line x1="859.5" y1="421" x2="859.5" y2="428" stroke="#089981" stroke-width="1"/>
<rect x="856.0" y="428" width="7" height="1" fill="#089981"/>
<line x1="868.5" y1="425" x2="868.5" y2="433" stroke="#089981" stroke-width="1"/>
<rect x="865.0" y="427" width="7" height="1" fill="#089981"/>
<line x1="878.5" y1="416" x2="878.5" y2="417" stroke="#089981" stroke-width="1"/>
<line x1="878.5" y1="424" x2="878.5" y2="425" stroke="#089981" stroke-width="1"/>
<rect x="875.5" y="417.5" width="6" height="6" fill="none" stroke="#089981" stroke-width="1"/>
<line x1="887.5" y1="412" x2="887.5" y2="416" stroke="#089981" stroke-width="1"/>
<rect x="884.0" y="415" width="7" height="1" fill="#089981"/>
<line x1="897.5" y1="409" x2="897.5" y2="411" stroke="#089981" stroke-width="1"/>
<rect x="894.5" y="411.5" width="6" height="2" fill="none" stroke="#089981" stroke-width="1"/>
<line x1="906.5" y1="408" x2="906.5" y2="412" stroke="#089981" stroke-width="1"/>
<rect x="903.0" y="409" width="7" height="2" fill="#089981"/>
<line x1="916.5" y1="406" x2="916.5" y2="415" stroke="#F23645" stroke-width="1"/>
<rect x="913.0" y="407" width="7" height="8" fill="#F23645"/>
<line x1="925.5" y1="409" x2="925.5" y2="420" stroke="#F23645" stroke-width="1"/>
<rect x="922.0" y="412" width="7" height="4" fill="#F23645"/>
<line x1="935.5" y1="403" x2="935.5" y2="423" stroke="#F23645" stroke-width="1"/>
<rect x="932.0" y="403" width="7" height="19" fill="#F23645"/>
<line x1="944.5" y1="431" x2="944.5" y2="447" stroke="#F23645" stroke-width="1"/>
<rect x="941.0" y="431" width="7" height="11" fill="#F23645"/>
<rect x="951.5" y="423.5" width="6" height="11" fill="none" stroke="#089981" stroke-width="1"/>
<line x1="963.5" y1="419" x2="963.5" y2="431" stroke="#F23645" stroke-width="1"/>
<rect x="960.0" y="421" width="7" height="9" fill="#F23645"/>
<line x1="973.5" y1="418" x2="973.5" y2="420" stroke="#089981" stroke-width="1"/>
<line x1="973.5" y1="427" x2="973.5" y2="429" stroke="#089981" stroke-width="1"/>
<rect x="970.5" y="420.5" width="6" height="6" fill="none" stroke="#089981" stroke-width="1"/>
<line x1="982.5" y1="410" x2="982.5" y2="427" stroke="#F23645" stroke-width="1"/>
<rect x="979.0" y="413" width="7" height="9" fill="#F23645"/>
<line x1="992.5" y1="409" x2="992.5" y2="411" stroke="#089981" stroke-width="1"/>
<rect x="989.5" y="411.5" width="6" height="6" fill="none" stroke="#089981" stroke-width="1"/>
<line x1="1001.5" y1="407" x2="1001.5" y2="416" stroke="#F23645" stroke-width="1"/>
<rect x="998.0" y="410" width="7" height="5" fill="#F23645"/>
<line x1="1011.5" y1="399" x2="1011.5" y2="400" stroke="#089981" stroke-width="1"/>
<line x1="1011.5" y1="410" x2="1011.5" y2="411" stroke="#089981" stroke-width="1"/>
<rect x="1008.5" y="400.5" width="6" height="9" fill="none" stroke="#089981" stroke-width="1"/>
<line x1="1020.5" y1="392" x2="1020.5" y2="399" stroke="#089981" stroke-width="1"/>
<rect x="1017.0" y="395" width="7" height="1" fill="#089981"/>
<line x1="1030.5" y1="393" x2="1030.5" y2="394" stroke="#089981" stroke-width="1"/>
<line x1="1030.5" y1="398" x2="1030.5" y2="400" stroke="#089981" stroke-width="1"/>
<rect x="1027.5" y="394.5" width="6" height="3" fill="none" stroke="#089981" stroke-width="1"/>
<line x1="1039.5" y1="392" x2="1039.5" y2="400" stroke="#F23645" stroke-width="1"/>
<rect x="1036.0" y="393" width="7" height="6" fill="#F23645"/>
<line x1="1049.5" y1="397" x2="1049.5" y2="401" stroke="#F23645" stroke-width="1"/>
<rect x="1046.0" y="398" width="7" height="1" fill="#F23645"/>
<line x1="1058.5" y1="397" x2="1058.5" y2="408" stroke="#F23645" stroke-width="1"/>
<rect x="1055.0" y="399" width="7" height="8" fill="#F23645"/>
<line x1="1068.5" y1="407" x2="1068.5" y2="420" stroke="#F23645" stroke-width="1"/>
<rect x="1065.0" y="407" width="7" height="2" fill="#F23645"/>
<line x1="1077.5" y1="410" x2="1077.5" y2="418" stroke="#F23645" stroke-width="1"/>
<rect x="1074.0" y="412" width="7" height="2" fill="#F23645"/>
<line x1="1087.5" y1="392" x2="1087.5" y2="396" stroke="#089981" stroke-width="1"/>
<rect x="1084.5" y="396.5" width="6" height="14" fill="none" stroke="#089981" stroke-width="1"/>
<line x1="1096.5" y1="396" x2="1096.5" y2="400" stroke="#F23645" stroke-width="1"/>
<rect x="1093.0" y="398" width="7" height="2" fill="#F23645"/>
<line x1="1106.5" y1="394" x2="1106.5" y2="396" stroke="#089981" stroke-width="1"/>
<rect x="1103.5" y="396.5" width="6" height="4" fill="none" stroke="#089981" stroke-width="1"/>
<line x1="1115.5" y1="391" x2="1115.5" y2="392" stroke="#089981" stroke-width="1"/>
<rect x="1112.5" y="392.5" width="6" height="3" fill="none" stroke="#089981" stroke-width="1"/>
<line x1="1125.5" y1="386" x2="1125.5" y2="388" stroke="#089981" stroke-width="1"/>
<line x1="1125.5" y1="392" x2="1125.5" y2="394" stroke="#089981" stroke-width="1"/>
<rect x="1122.5" y="388.5" width="6" height="3" fill="none" stroke="#089981" stroke-width="1"/>
<line x1="1134.5" y1="390" x2="1134.5" y2="398" stroke="#F23645" stroke-width="1"/>
<rect x="1131.0" y="390" width="7" height="7" fill="#F23645"/>
<line x1="1144.5" y1="405" x2="1144.5" y2="406" stroke="#F23645" stroke-width="1"/>
<line x1="1144.5" y1="409" x2="1144.5" y2="416" stroke="#F23645" stroke-width="1"/>
<rect x="1141.5" y="406.5" width="6" height="2" fill="none" stroke="#F23645" stroke-width="1"/>
<line x1="1153.5" y1="397" x2="1153.5" y2="404" stroke="#089981" stroke-width="1"/>
<rect x="1150.0" y="398" width="7" height="1" fill="#089981"/>
<line x1="1163.5" y1="398" x2="1163.5" y2="399" stroke="#089981" stroke-width="1"/>
<rect x="1160.5" y="388.5" width="6" height="9" fill="none" stroke="#089981" stroke-width="1"/>
<line x1="1172.5" y1="381" x2="1172.5" y2="399" stroke="#F23645" stroke-width="1"/>
<rect x="1169.0" y="382" width="7" height="10" fill="#F23645"/>
<line x1="1182.5" y1="386" x2="1182.5" y2="391" stroke="#089981" stroke-width="1"/>
<rect x="1179.0" y="388" width="7" height="1" fill="#089981"/>
<line x1="1191.5" y1="384" x2="1191.5" y2="385" stroke="#089981" stroke-width="1"/>
<line x1="1191.5" y1="388" x2="1191.5" y2="391" stroke="#089981" stroke-width="1"/>
<rect x="1188.5" y="385.5" width="6" height="2" fill="none" stroke="#089981" stroke-width="1"/>
<line x1="1201.5" y1="376" x2="1201.5" y2="385" stroke="#089981" stroke-width="1"/>
<rect x="1198.0" y="378" width="7" height="4" fill="#089981"/>
<line x1="1210.5" y1="369" x2="1210.5" y2="370" stroke="#089981" stroke-width="1"/>
<line x1="1210.5" y1="377" x2="1210.5" y2="378" stroke="#089981" stroke-width="1"/>
<rect x="1207.5" y="370.5" width="6" height="6" fill="none" stroke="#089981" stroke-width="1"/>
<line x1="1220.5" y1="367" x2="1220.5" y2="371" stroke="#F23645" stroke-width="1"/>
<rect x="1217.0" y="369" width="7" height="2" fill="#F23645"/>
<line x1="1229.5" y1="363" x2="1229.5" y2="364" stroke="#089981" stroke-width="1"/>
<rect x="1226.5" y="364.5" width="6" height="2" fill="none" stroke="#089981" stroke-width="1"/>
<line x1="1239.5" y1="362" x2="1239.5" y2="367" stroke="#F23645" stroke-width="1"/>
<rect x="1236.0" y="363" width="7" height="4" fill="#F23645"/>
<line x1="1248.5" y1="362" x2="1248.5" y2="377" stroke="#F23645" stroke-width="1"/>
<rect x="1245.0" y="366" width="7" height="1" fill="#F23645"/>
<line x1="1258.5" y1="356" x2="1258.5" y2="365" stroke="#089981" stroke-width="1"/>
<rect x="1255.0" y="361" width="7" height="2" fill="#089981"/>
<line x1="1267.5" y1="353" x2="1267.5" y2="354" stroke="#089981" stroke-width="1"/>
<line x1="1267.5" y1="358" x2="1267.5" y2="361" stroke="#089981" stroke-width="1"/>
<rect x="1264.5" y="354.5" width="6" height="3" fill="none" stroke="#089981" stroke-width="1"/>
<line x1="1277.5" y1="347" x2="1277.5" y2="348" stroke="#089981" stroke-width="1"/>
<rect x="1274.5" y="348.5" width="6" height="8" fill="none" stroke="#089981" stroke-width="1"/>
<line x1="1286.5" y1="347" x2="1286.5" y2="357" stroke="#F23645" stroke-width="1"/>
<rect x="1283.0" y="349" width="7" height="8" fill="#F23645"/>
<line x1="1296.5" y1="353" x2="1296.5" y2="363" stroke="#F23645" stroke-width="1"/>
<rect x="1293.0" y="353" width="7" height="8" fill="#F23645"/>
<line x1="1305.5" y1="364" x2="1305.5" y2="374" stroke="#F23645" stroke-width="1"/>
<rect x="1302.0" y="366" width="7" height="1" fill="#F23645"/>
<line x1="1315.5" y1="357" x2="1315.5" y2="359" stroke="#089981" stroke-width="1"/>
<line x1="1315.5" y1="365" x2="1315.5" y2="367" stroke="#089981" stroke-width="1"/>
<rect x="1312.5" y="359.5" width="6" height="5" fill="none" stroke="#089981" stroke-width="1"/>
<line x1="1324.5" y1="353" x2="1324.5" y2="357" stroke="#089981" stroke-width="1"/>
<rect x="1321.0" y="355" width="7" height="1" fill="#089981"/>
<line x1="1334.5" y1="349" x2="1334.5" y2="350" stroke="#089981" stroke-width="1"/>
<line x1="1334.5" y1="357" x2="1334.5" y2="359" stroke="#089981" stroke-width="1"/>
<rect x="1331.5" y="350.5" width="6" height="6" fill="none" stroke="#089981" stroke-width="1"/>
<line x1="1343.5" y1="343" x2="1343.5" y2="346" stroke="#089981" stroke-width="1"/>
<line x1="1343.5" y1="354" x2="1343.5" y2="356" stroke="#089981" stroke-width="1"/>
<rect x="1340.5" y="346.5" width="6" height="7" fill="none" stroke="#089981" stroke-width="1"/>
<line x1="1353.5" y1="340" x2="1353.5" y2="348" stroke="#089981" stroke-width="1"/>
<rect x="1350.0" y="341" width="7" height="3" fill="#089981"/>
<line x1="1362.5" y1="337" x2="1362.5" y2="346" stroke="#089981" stroke-width="1"/>
<rect x="1359.0" y="343" width="7" height="1" fill="#089981"/>
<line x1="1372.5" y1="337" x2="1372.5" y2="342" stroke="#089981" stroke-width="1"/>
<rect x="1369.0" y="340" width="7" height="1" fill="#089981"/>
<line x1="1381.5" y1="336" x2="1381.5" y2="347" stroke="#F23645" stroke-width="1"/>
<rect x="1378.0" y="338" width="7" height="7" fill="#F23645"/>
<rect x="1388.5" y="336.5" width="6" height="5" fill="none" stroke="#089981" stroke-width="1"/>
<line x1="1400.5" y1="334" x2="1400.5" y2="343" stroke="#F23645" stroke-width="1"/>
<rect x="1397.0" y="335" width="7" height="5" fill="#F23645"/>
<line x1="1410.5" y1="334" x2="1410.5" y2="378" stroke="#F23645" stroke-width="1"/>
<rect x="1407.0" y="339" width="7" height="39" fill="#F23645"/>
<line x1="1419.5" y1="353" x2="1419.5" y2="357" stroke="#089981" stroke-width="1"/>
<rect x="1416.5" y="357.5" width="6" height="4" fill="none" stroke="#089981" stroke-width="1"/>
<line x1="1429.5" y1="351" x2="1429.5" y2="358" stroke="#F23645" stroke-width="1"/>
<line x1="1429.5" y1="369" x2="1429.5" y2="377" stroke="#F23645" stroke-width="1"/>
<rect x="1426.5" y="358.5" width="6" height="10" fill="none" stroke="#F23645" stroke-width="1"/>
<line x1="1438.5" y1="342" x2="1438.5" y2="365" stroke="#089981" stroke-width="1"/>
<rect x="1435.0" y="349" width="7" height="5" fill="#089981"/>
<line x1="1448.5" y1="345" x2="1448.5" y2="369" stroke="#F23645" stroke-width="1"/>
<rect x="1445.0" y="349" width="7" height="13" fill="#F23645"/>
<line x1="1457.5" y1="351" x2="1457.5" y2="355" stroke="#089981" stroke-width="1"/>
<rect x="1454.5" y="355.5" width="6" height="10" fill="none" stroke="#089981" stroke-width="1"/>
<line x1="1467.5" y1="338" x2="1467.5" y2="340" stroke="#089981" stroke-width="1"/>
<rect x="1464.5" y="340.5" width="6" height="8" fill="none" stroke="#089981" stroke-width="1"/>
<line x1="1476.5" y1="336" x2="1476.5" y2="343" stroke="#089981" stroke-width="1"/>
<rect x="1473.0" y="339" width="7" height="1" fill="#089981"/>
<line x1="1486.5" y1="338" x2="1486.5" y2="356" stroke="#F23645" stroke-width="1"/>
<rect x="1483.0" y="339" width="7" height="9" fill="#F23645"/>
<line x1="1495.5" y1="338" x2="1495.5" y2="339" stroke="#089981" stroke-width="1"/>
<rect x="1492.5" y="339.5" width="6" height="6" fill="none" stroke="#089981" stroke-width="1"/>
<line x1="1505.5" y1="326" x2="1505.5" y2="329" stroke="#089981" stroke-width="1"/>
<rect x="1502.5" y="329.5" width="6" height="2" fill="none" stroke="#089981" stroke-width="1"/>
<rect x="1511.5" y="311.5" width="6" height="5" fill="none" stroke="#089981" stroke-width="1"/>
<line x1="1524.5" y1="304" x2="1524.5" y2="312" stroke="#089981" stroke-width="1"/>
<rect x="1521.0" y="308" width="7" height="1" fill="#089981"/>
<line x1="1533.5" y1="302" x2="1533.5" y2="316" stroke="#F23645" stroke-width="1"/>
<rect x="1530.0" y="304" width="7" height="5" fill="#F23645"/>
<line x1="1543.5" y1="310" x2="1543.5" y2="323" stroke="#F23645" stroke-width="1"/>
<rect x="1540.0" y="314" width="7" height="9" fill="#F23645"/>
<line x1="1552.5" y1="311" x2="1552.5" y2="324" stroke="#089981" stroke-width="1"/>
<rect x="1549.0" y="311" width="7" height="8" fill="#089981"/>
<line x1="1562.5" y1="310" x2="1562.5" y2="322" stroke="#089981" stroke-width="1"/>
<rect x="1559.0" y="310" width="7" height="6" fill="#089981"/>
<line x1="1571.5" y1="322" x2="1571.5" y2="333" stroke="#F23645" stroke-width="1"/>
<rect x="1568.0" y="329" width="7" height="4" fill="#F23645"/>
<line x1="1581.5" y1="320" x2="1581.5" y2="328" stroke="#089981" stroke-width="1"/>
<rect x="1578.5" y="328.5" width="6" height="4" fill="none" stroke="#089981" stroke-width="1"/>
<line x1="1590.5" y1="327" x2="1590.5" y2="344" stroke="#F23645" stroke-width="1"/>
<rect x="1587.0" y="329" width="7" height="15" fill="#F23645"/>
</g>
<text x="17.7" y="154" font-size="13.2" fill="#131722" textLength="177.5" lengthAdjust="spacingAndGlyphs">SPX · S&amp;P 500 Index · 1D · SPCFD</text>
<text x="202.5" y="154" font-size="13.2" fill="#131722" textLength="7.6" lengthAdjust="spacingAndGlyphs">O</text>
<text x="210.2" y="154" font-size="13.2" fill="#F23645" textLength="40.2" lengthAdjust="spacingAndGlyphs">6,787.6</text>
<text x="257.8" y="154" font-size="13.2" fill="#131722" textLength="6.9" lengthAdjust="spacingAndGlyphs">H</text>
<text x="265.5" y="154" font-size="13.2" fill="#F23645" textLength="40.2" lengthAdjust="spacingAndGlyphs">6,796.7</text>
<text x="313" y="154" font-size="13.2" fill="#131722" textLength="5.6" lengthAdjust="spacingAndGlyphs">L</text>
<text x="319.7" y="154" font-size="13.2" fill="#F23645" textLength="39.5" lengthAdjust="spacingAndGlyphs">6,707.5</text>
<text x="366.6" y="154" font-size="13.2" fill="#131722" textLength="6.9" lengthAdjust="spacingAndGlyphs">C</text>
<text x="374.3" y="154" font-size="13.2" fill="#F23645" textLength="39.5" lengthAdjust="spacingAndGlyphs">6,720.3</text>
<text x="422.5" y="154" font-size="13.2" fill="#F23645" textLength="77.3" lengthAdjust="spacingAndGlyphs">−76.0 (−1.12%)</text>
<path d="M972.5,273.2 H1030.2 Q1039.2,273.2 1039.2,282.2 V327.5 L1077.5,385 L1031.4,334.6 H972.5 Q963.5,334.6 963.5,325.6 V282.2 Q963.5,273.2 972.5,273.2 Z" fill="#5DBFAF" stroke="#119E8A" stroke-width="2" stroke-linejoin="round" fill-opacity="0.92"/>
<text x="973.6" y="293.6" font-size="13.2" fill="#fff" font-weight="bold" textLength="54.2" lengthAdjust="spacingAndGlyphs">Day One</text>
<text x="973.6" y="307.7" font-size="13.2" fill="#fff" font-weight="bold" textLength="43.3" lengthAdjust="spacingAndGlyphs">Bullish</text>
<text x="973.6" y="321.7" font-size="13.2" fill="#fff" font-weight="bold" textLength="55.4" lengthAdjust="spacingAndGlyphs">Reversal</text>
<path d="M1179.8,200.6 H1298.4 Q1308.4,200.6 1308.4,210.6 V268.6 L1400,332 L1301,276.3 H1179.8 Q1169.8,276.3 1169.8,266.3 V210.6 Q1169.8,200.6 1179.8,200.6 Z" fill="#EE6594" stroke="#2B1B22" stroke-width="2" stroke-linejoin="round" fill-opacity="0.87"/>
<text x="1179.6" y="220.7" font-size="13.2" fill="#fff" font-weight="bold" textLength="106.6" lengthAdjust="spacingAndGlyphs">Day One Bearish</text>
<text x="1179.6" y="234.6" font-size="13.2" fill="#fff" font-weight="bold" textLength="114.7" lengthAdjust="spacingAndGlyphs">Reversal of Trend</text>
<text x="1179.6" y="248.6" font-size="13.2" fill="#fff" font-weight="bold" textLength="64" lengthAdjust="spacingAndGlyphs">that went</text>
<text x="1179.6" y="262.3" font-size="13.2" fill="#fff" font-weight="bold" textLength="83.6" lengthAdjust="spacingAndGlyphs">unconfirmed</text>
<path d="M1494.2,153.8 H1610.3 Q1619.3,153.8 1619.3,162.8 V192.3 Q1619.3,201.3 1610.3,201.3 H1561.6 L1600.4,314.9 L1544,201.3 H1494.2 Q1485.2,201.3 1485.2,192.3 V162.8 Q1485.2,153.8 1494.2,153.8 Z" fill="#F37FA6" stroke="#2B1B22" stroke-width="2" stroke-linejoin="round" fill-opacity="0.87"/>
<text x="1495.9" y="174.3" font-size="13.2" fill="#1a1a1a" font-weight="bold" textLength="86" lengthAdjust="spacingAndGlyphs">New Day One</text>
<text x="1495.9" y="188.3" font-size="13.2" fill="#1a1a1a" font-weight="bold" textLength="113.4" lengthAdjust="spacingAndGlyphs">Besarish Reversal</text>
<path d="M1399.2,397.4 H1468.5 L1486.7,356 L1484.8,397.4 H1553.8 Q1563.8,397.4 1563.8,407.4 V448.3 Q1563.8,458.3 1553.8,458.3 H1399.2 Q1389.2,458.3 1389.2,448.3 V407.4 Q1389.2,397.4 1399.2,397.4 Z" fill="#F37FA6" stroke="#2B1B22" stroke-width="2" stroke-linejoin="round" fill-opacity="0.87"/>
<text x="1399.6" y="417.6" font-size="13.2" fill="#111" font-weight="bold" textLength="105.5" lengthAdjust="spacingAndGlyphs">Day One Bearish</text>
<text x="1399.6" y="431.4" font-size="13.2" fill="#111" font-weight="bold" textLength="117.6" lengthAdjust="spacingAndGlyphs">Reversal of Trend,</text>
<text x="1399.6" y="444.8" font-size="13.2" fill="#111" font-weight="bold" textLength="154.1" lengthAdjust="spacingAndGlyphs">again goes unconfirmed</text>
<path d="M1128.1,460 H1174 L1210.9,389.4 L1189.7,460 H1235.7 Q1244.7,460 1244.7,469 V498.5 Q1244.7,507.5 1235.7,507.5 H1128.1 Q1119.1,507.5 1119.1,498.5 V469 Q1119.1,460 1128.1,460 Z" fill="#357F6E" stroke="#1E2B28" stroke-width="2" stroke-linejoin="round" fill-opacity="0.85"/>
<text x="1128.3" y="480.9" font-size="13.2" fill="#fff" font-weight="bold" textLength="106.7" lengthAdjust="spacingAndGlyphs">Re-Confirmation</text>
<text x="1128.3" y="494.3" font-size="13.2" fill="#fff" font-weight="bold" textLength="54.7" lengthAdjust="spacingAndGlyphs">of Trend</text>
<path d="M1034.3,518.1 H1069 L1106.4,413 L1085.9,518.1 H1120.7 Q1129.7,518.1 1129.7,527.1 V555.5 Q1129.7,564.5 1120.7,564.5 H1034.3 Q1025.3,564.5 1025.3,555.5 V527.1 Q1025.3,518.1 1034.3,518.1 Z" fill="#357F6E" stroke="#1E2B28" stroke-width="2" stroke-linejoin="round" fill-opacity="0.85"/>
<text x="1035" y="538" font-size="13.2" fill="#fff" font-weight="bold" textLength="84.8" lengthAdjust="spacingAndGlyphs">Confirmation</text>
<text x="1035" y="551.4" font-size="13.2" fill="#fff" font-weight="bold" textLength="23" lengthAdjust="spacingAndGlyphs">Day</text>
<g clip-path="url(#cpMain)">
<line x1="10.9" y1="302.4" x2="1741" y2="302.4" stroke="#787B86" stroke-width="1.2" stroke-dasharray="1.2 1.8"/>
<line x1="10.9" y1="343.2" x2="1741" y2="343.2" stroke="#F23645" stroke-width="1.2" stroke-dasharray="1.4 2.6"/>
<path d="M9.9,543.5 C16.47,543.18 34.53,542.25 49.3,541.6 C64.07,540.95 82.08,540.1 98.5,539.6 C114.92,539.1 131.38,538.6 147.8,538.6 C164.22,538.6 180.58,539.18 197,539.6 C213.42,540.02 229.87,540.77 246.3,541.1 C262.73,541.43 279.18,541.6 295.6,541.6 C312.02,541.6 328.4,541.32 344.8,541.1 C361.2,540.88 376.47,540.72 394,540.3 C411.53,539.88 432.05,539.52 450,538.6 C467.95,537.68 487.13,535.82 501.7,534.8 C516.27,533.78 525.5,533.08 537.4,532.5 C549.3,531.92 561.18,531.8 573.1,531.3 C585.02,530.8 596.98,530.02 608.9,529.5 C620.82,528.98 632.7,528.6 644.6,528.2 C656.5,527.8 670.07,527.48 680.3,527.1 C690.53,526.72 682.28,527.27 706,525.9 C729.72,524.53 782.73,521.43 822.6,518.9 C862.47,516.37 904.33,513.5 945.2,510.7 C986.07,507.9 1032.03,504.62 1067.8,502.1 C1103.57,499.58 1127.77,497.52 1159.8,495.6 C1191.83,493.68 1229.55,492.35 1260,490.6 C1290.45,488.85 1322.83,486.5 1342.5,485.1 C1362.17,483.7 1362.25,483.42 1378,482.2 C1393.75,480.98 1420.58,479.17 1437,477.8 C1453.42,476.43 1465,475.1 1476.5,474 C1488,472.9 1496.15,472.22 1506,471.2 C1515.85,470.18 1524.1,469.02 1535.6,467.9 C1547.1,466.78 1565.85,465.17 1575,464.5 C1584.15,463.83 1587.92,464 1590.5,463.9" fill="none" stroke="#F23645" stroke-width="2"/>
</g>
<g clip-path="url(#cpMACD)">
<rect x="791.3" y="732.1" width="61.6" height="28.6" fill="#D3D3D3" stroke="#000" stroke-width="1.8"/>
<text x="795.2" y="752.8" font-size="18.5" fill="#000" font-weight="bold" textLength="51.6" lengthAdjust="spacingAndGlyphs">MACD</text>
<rect x="9" y="741.4" width="8" height="12.18" fill="#2962FF"/>
<rect x="18" y="741.4" width="9" height="12.59" fill="#2962FF"/>
<rect x="28" y="741.4" width="8" height="9.81" fill="#2962FF"/>
<rect x="37" y="741.4" width="9" height="6.7" fill="#2962FF"/>
<rect x="47" y="741.4" width="8" height="5.26" fill="#2962FF"/>
<rect x="56" y="741.4" width="9" height="2.74" fill="#2962FF"/>
<rect x="66" y="741.4" width="8" height="1.5" fill="#2962FF"/>
<rect x="75" y="740.8" width="9" height="1.5" fill="#2962FF"/>
<rect x="85" y="737.82" width="8" height="3.58" fill="#2962FF"/>
<rect x="94" y="735.68" width="9" height="5.72" fill="#2962FF"/>
<rect x="104" y="735.65" width="8" height="5.75" fill="#2962FF"/>
<rect x="113" y="735.97" width="9" height="5.43" fill="#2962FF"/>
<rect x="123" y="738.45" width="8" height="2.95" fill="#2962FF"/>
<rect x="132" y="739.27" width="9" height="2.13" fill="#2962FF"/>
<rect x="142" y="739.37" width="8" height="2.03" fill="#2962FF"/>
<rect x="151" y="738.63" width="9" height="2.77" fill="#2962FF"/>
<rect x="161" y="741.4" width="8" height="1.87" fill="#2962FF"/>
<rect x="170" y="741.4" width="9" height="10.41" fill="#2962FF"/>
<rect x="180" y="741.4" width="8" height="15.24" fill="#2962FF"/>
<rect x="189" y="741.4" width="9" height="18.9" fill="#2962FF"/>
<rect x="199" y="741.4" width="8" height="10.91" fill="#2962FF"/>
<rect x="208" y="741.4" width="9" height="8.56" fill="#2962FF"/>
<rect x="218" y="741.4" width="8" height="4.49" fill="#2962FF"/>
<rect x="227" y="741.4" width="9" height="1.5" fill="#2962FF"/>
<rect x="237" y="739.37" width="8" height="2.03" fill="#2962FF"/>
<rect x="246" y="739.7" width="9" height="1.7" fill="#2962FF"/>
<rect x="256" y="739.59" width="8" height="1.81" fill="#2962FF"/>
<rect x="265" y="741.4" width="9" height="1.5" fill="#2962FF"/>
<rect x="275" y="740.03" width="8" height="1.5" fill="#2962FF"/>
<rect x="284" y="737.31" width="9" height="4.09" fill="#2962FF"/>
<rect x="294" y="733.33" width="8" height="8.07" fill="#2962FF"/>
<rect x="303" y="730.24" width="9" height="11.16" fill="#2962FF"/>
<rect x="313" y="728.48" width="8" height="12.92" fill="#2962FF"/>
<rect x="322" y="727.2" width="9" height="14.2" fill="#2962FF"/>
<rect x="332" y="726.78" width="8" height="14.62" fill="#2962FF"/>
<rect x="341" y="726.52" width="9" height="14.88" fill="#2962FF"/>
<rect x="351" y="725.44" width="8" height="15.96" fill="#2962FF"/>
<rect x="360" y="726.28" width="9" height="15.12" fill="#2962FF"/>
<rect x="370" y="728.31" width="8" height="13.09" fill="#2962FF"/>
<rect x="379" y="729.75" width="9" height="11.65" fill="#2962FF"/>
<rect x="389" y="730.58" width="8" height="10.82" fill="#2962FF"/>
<rect x="398" y="731.85" width="9" height="9.55" fill="#2962FF"/>
<rect x="408" y="729.66" width="8" height="11.74" fill="#2962FF"/>
<rect x="417" y="728.13" width="9" height="13.27" fill="#2962FF"/>
<rect x="427" y="727.84" width="8" height="13.56" fill="#2962FF"/>
<rect x="436" y="728" width="9" height="13.4" fill="#2962FF"/>
<rect x="446" y="728.32" width="8" height="13.08" fill="#2962FF"/>
<rect x="455" y="729.2" width="9" height="12.2" fill="#2962FF"/>
<rect x="465" y="730.95" width="8" height="10.45" fill="#2962FF"/>
<rect x="474" y="734.75" width="9" height="6.65" fill="#2962FF"/>
<rect x="484" y="737.69" width="8" height="3.71" fill="#2962FF"/>
<rect x="493" y="740.69" width="9" height="1.5" fill="#2962FF"/>
<rect x="503" y="740.71" width="8" height="1.5" fill="#2962FF"/>
<rect x="512" y="741.4" width="9" height="1.5" fill="#2962FF"/>
<rect x="522" y="741.4" width="8" height="1.5" fill="#2962FF"/>
<rect x="531" y="741.4" width="9" height="1.5" fill="#2962FF"/>
<rect x="541" y="741.4" width="8" height="1.5" fill="#2962FF"/>
<rect x="550" y="741.4" width="9" height="1.5" fill="#2962FF"/>
<rect x="560" y="741.4" width="8" height="1.5" fill="#2962FF"/>
<rect x="569" y="741.4" width="9" height="1.5" fill="#2962FF"/>
<rect x="579" y="741.4" width="8" height="1.5" fill="#2962FF"/>
<rect x="588" y="741.4" width="9" height="1.5" fill="#2962FF"/>
<rect x="598" y="741.4" width="8" height="1.5" fill="#2962FF"/>
<rect x="607" y="741.4" width="9" height="1.5" fill="#2962FF"/>
<rect x="617" y="741.4" width="8" height="1.5" fill="#2962FF"/>
<rect x="626" y="741.4" width="9" height="1.71" fill="#2962FF"/>
<rect x="636" y="741.4" width="8" height="1.64" fill="#2962FF"/>
<rect x="645" y="741.4" width="9" height="2.79" fill="#2962FF"/>
<rect x="655" y="741.4" width="8" height="3.55" fill="#2962FF"/>
<rect x="664" y="741.4" width="9" height="4.33" fill="#2962FF"/>
<rect x="674" y="741.4" width="8" height="3.72" fill="#2962FF"/>
<rect x="683" y="741.4" width="9" height="2.04" fill="#2962FF"/>
<rect x="693" y="741.4" width="8" height="1.5" fill="#2962FF"/>
<rect x="702" y="741.12" width="9" height="1.5" fill="#2962FF"/>
<rect x="712" y="739.95" width="8" height="1.5" fill="#2962FF"/>
<rect x="721" y="738.85" width="9" height="2.55" fill="#2962FF"/>
<rect x="731" y="738.65" width="8" height="2.75" fill="#2962FF"/>
<rect x="740" y="738.32" width="9" height="3.08" fill="#2962FF"/>
<rect x="750" y="737.5" width="8" height="3.9" fill="#2962FF"/>
<rect x="759" y="738.34" width="9" height="3.06" fill="#2962FF"/>
<rect x="769" y="739.34" width="9" height="2.06" fill="#2962FF"/>
<rect x="779" y="739.55" width="8" height="1.85" fill="#2962FF"/>
<rect x="788" y="739.78" width="9" height="1.62" fill="#2962FF"/>
<rect x="798" y="740.62" width="8" height="1.5" fill="#2962FF"/>
<rect x="807" y="741.21" width="9" height="1.5" fill="#2962FF"/>
<rect x="817" y="741.4" width="8" height="1.5" fill="#2962FF"/>
<rect x="826" y="741.4" width="9" height="1.5" fill="#2962FF"/>
<rect x="836" y="741.4" width="8" height="1.5" fill="#2962FF"/>
<rect x="845" y="741.4" width="9" height="1.5" fill="#2962FF"/>
<rect x="855" y="741.4" width="8" height="1.5" fill="#2962FF"/>
<rect x="864" y="741.4" width="9" height="1.5" fill="#2962FF"/>
<rect x="874" y="741.4" width="8" height="1.5" fill="#2962FF"/>
<rect x="883" y="741.4" width="9" height="1.5" fill="#2962FF"/>
<rect x="893" y="741.4" width="8" height="1.5" fill="#2962FF"/>
<rect x="902" y="741.35" width="9" height="1.5" fill="#2962FF"/>
<rect x="912" y="741.4" width="8" height="1.5" fill="#2962FF"/>
<rect x="921" y="741.4" width="9" height="1.5" fill="#2962FF"/>
<rect x="931" y="741.4" width="8" height="2.22" fill="#2962FF"/>
<rect x="940" y="741.4" width="9" height="4.78" fill="#2962FF"/>
<rect x="950" y="741.4" width="8" height="4.68" fill="#2962FF"/>
<rect x="959" y="741.4" width="9" height="5.15" fill="#2962FF"/>
<rect x="969" y="741.4" width="8" height="4.48" fill="#2962FF"/>
<rect x="978" y="741.4" width="9" height="4.12" fill="#2962FF"/>
<rect x="988" y="741.4" width="8" height="2.9" fill="#2962FF"/>
<rect x="997" y="741.4" width="9" height="2.43" fill="#2962FF"/>
<rect x="1007" y="741.4" width="8" height="1.5" fill="#2962FF"/>
<rect x="1016" y="740.9" width="9" height="1.5" fill="#2962FF"/>
<rect x="1026" y="740.15" width="8" height="1.5" fill="#2962FF"/>
<rect x="1035" y="740.3" width="9" height="1.5" fill="#2962FF"/>
<rect x="1045" y="740.6" width="8" height="1.5" fill="#2962FF"/>
<rect x="1054" y="741.4" width="9" height="1.5" fill="#2962FF"/>
<rect x="1064" y="741.4" width="8" height="1.5" fill="#2962FF"/>
<rect x="1073" y="741.4" width="9" height="2.6" fill="#2962FF"/>
<rect x="1083" y="741.4" width="8" height="1.66" fill="#2962FF"/>
<rect x="1092" y="741.4" width="9" height="1.57" fill="#2962FF"/>
<rect x="1102" y="741.4" width="8" height="1.5" fill="#2962FF"/>
<rect x="1111" y="741.4" width="9" height="1.5" fill="#2962FF"/>
<rect x="1121" y="741.4" width="8" height="1.5" fill="#2962FF"/>
<rect x="1130" y="741.4" width="9" height="1.5" fill="#2962FF"/>
<rect x="1140" y="741.4" width="8" height="1.81" fill="#2962FF"/>
<rect x="1149" y="741.4" width="9" height="1.97" fill="#2962FF"/>
<rect x="1159" y="741.4" width="8" height="1.5" fill="#2962FF"/>
<rect x="1168" y="741.4" width="9" height="1.5" fill="#2962FF"/>
<rect x="1178" y="741.4" width="8" height="1.5" fill="#2962FF"/>
<rect x="1187" y="741.4" width="9" height="1.5" fill="#2962FF"/>
<rect x="1197" y="741.26" width="8" height="1.5" fill="#2962FF"/>
<rect x="1206" y="740.02" width="9" height="1.5" fill="#2962FF"/>
<rect x="1216" y="739.57" width="8" height="1.83" fill="#2962FF"/>
<rect x="1225" y="738.87" width="9" height="2.53" fill="#2962FF"/>
<rect x="1235" y="738.89" width="8" height="2.51" fill="#2962FF"/>
<rect x="1244" y="739.15" width="9" height="2.25" fill="#2962FF"/>
<rect x="1254" y="739.23" width="8" height="2.17" fill="#2962FF"/>
<rect x="1263" y="738.8" width="9" height="2.6" fill="#2962FF"/>
<rect x="1273" y="738.25" width="8" height="3.15" fill="#2962FF"/>
<rect x="1282" y="738.98" width="9" height="2.42" fill="#2962FF"/>
<rect x="1292" y="740.11" width="8" height="1.5" fill="#2962FF"/>
<rect x="1301" y="741.4" width="9" height="1.5" fill="#2962FF"/>
<rect x="1311" y="741.4" width="8" height="1.5" fill="#2962FF"/>
<rect x="1320" y="741.4" width="9" height="1.5" fill="#2962FF"/>
<rect x="1330" y="741.4" width="8" height="1.5" fill="#2962FF"/>
<rect x="1339" y="741.22" width="9" height="1.5" fill="#2962FF"/>
<rect x="1349" y="741" width="8" height="1.5" fill="#2962FF"/>
<rect x="1358" y="741.05" width="9" height="1.5" fill="#2962FF"/>
<rect x="1368" y="740.86" width="8" height="1.5" fill="#2962FF"/>
<rect x="1377" y="741.38" width="9" height="1.5" fill="#2962FF"/>
<rect x="1387" y="741.11" width="8" height="1.5" fill="#2962FF"/>
<rect x="1396" y="741.4" width="9" height="1.5" fill="#2962FF"/>
<rect x="1406" y="741.4" width="8" height="3.86" fill="#2962FF"/>
<rect x="1415" y="741.4" width="9" height="4.3" fill="#2962FF"/>
<rect x="1425" y="741.4" width="8" height="4.64" fill="#2962FF"/>
<rect x="1434" y="741.4" width="9" height="4.31" fill="#2962FF"/>
<rect x="1444" y="741.4" width="8" height="4.81" fill="#2962FF"/>
<rect x="1453" y="741.4" width="9" height="4.28" fill="#2962FF"/>
<rect x="1463" y="741.4" width="8" height="2.53" fill="#2962FF"/>
<rect x="1472" y="741.4" width="9" height="1.5" fill="#2962FF"/>
<rect x="1482" y="741.4" width="8" height="1.5" fill="#2962FF"/>
<rect x="1491" y="741.4" width="9" height="1.5" fill="#2962FF"/>
<rect x="1501" y="740.64" width="8" height="1.5" fill="#2962FF"/>
<rect x="1510" y="738.38" width="9" height="3.02" fill="#2962FF"/>
<rect x="1520" y="736.88" width="8" height="4.52" fill="#2962FF"/>
<rect x="1529" y="736.38" width="9" height="5.02" fill="#2962FF"/>
<rect x="1539" y="737.71" width="8" height="3.69" fill="#2962FF"/>
<rect x="1548" y="738.51" width="9" height="2.89" fill="#2962FF"/>
<rect x="1558" y="739.11" width="8" height="2.29" fill="#2962FF"/>
<rect x="1567" y="741.23" width="9" height="1.5" fill="#2962FF"/>
<rect x="1577" y="741.4" width="8" height="1.5" fill="#2962FF"/>
<rect x="1586" y="741.4" width="9" height="3.02" fill="#2962FF"/>
<line x1="10.0" y1="741.4" x2="1741" y2="741.4" stroke="#5D606B" stroke-width="1.1" stroke-dasharray="5 6"/>
<polyline points="9.9,758.22 12.96,759.64 22.46,762.79 31.96,765.24 41.47,766.92 50.97,768.23 60.47,768.91 69.98,769.15 79.48,769 88.98,768.11 98.48,766.68 107.99,765.24 117.49,763.88 126.99,763.14 136.5,762.61 146,762.1 155.5,761.41 165.01,761.88 174.51,764.48 184.01,768.29 193.51,773.01 203.02,775.74 212.52,777.88 222.02,779.01 231.53,779.16 241.03,778.66 250.53,778.23 260.04,777.78 269.54,777.82 279.04,777.48 288.55,776.46 298.05,774.44 307.55,771.65 317.05,768.42 326.56,764.87 336.06,761.21 345.56,757.49 355.07,753.5 364.57,749.72 374.07,746.45 383.57,743.54 393.08,740.83 402.58,738.44 412.08,735.51 421.59,732.19 431.09,728.8 440.59,725.45 450.1,722.18 459.6,719.13 469.1,716.52 478.61,714.86 488.11,713.93 497.61,713.75 507.11,713.58 516.62,713.64 526.12,713.8 535.62,714.05 545.13,714.31 554.63,714.45 564.13,714.6 573.63,714.96 583.14,715.18 592.64,715.33 602.14,715.35 611.65,715.43 621.15,715.49 630.65,715.92 640.16,716.33 649.66,717.03 659.16,717.92 668.66,719 678.17,719.93 687.67,720.44 697.17,720.72 706.68,720.65 716.18,720.29 725.68,719.65 735.19,718.96 744.69,718.19 754.19,717.22 763.7,716.45 773.2,715.94 782.7,715.48 792.2,715.07 801.71,714.88 811.21,714.83 820.71,715.06 830.22,715.41 839.72,715.73 849.22,716.05 858.73,716.39 868.23,716.77 877.73,716.98 887.23,717.11 896.74,717.13 906.24,717.11 915.74,717.23 925.25,717.51 934.75,718.07 944.25,719.27 953.75,720.43 963.26,721.72 972.76,722.84 982.26,723.87 991.77,724.6 1001.27,725.21 1010.77,725.41 1020.28,725.28 1029.78,724.97 1039.28,724.69 1048.78,724.49 1058.29,724.58 1067.79,724.93 1077.29,725.58 1086.8,726 1096.3,726.39 1105.8,726.67 1115.31,726.82 1124.81,726.83 1134.31,726.97 1143.82,727.42 1153.32,727.91 1162.82,728.19 1172.32,728.46 1181.83,728.64 1191.33,728.72 1200.83,728.69 1210.34,728.34 1219.84,727.88 1229.34,727.25 1238.85,726.62 1248.35,726.06 1257.85,725.52 1267.35,724.87 1276.86,724.08 1286.36,723.47 1295.86,723.15 1305.37,723.19 1314.87,723.34 1324.37,723.49 1333.88,723.56 1343.38,723.51 1352.88,723.41 1362.38,723.33 1371.89,723.19 1381.39,723.19 1390.89,723.11 1400.4,723.14 1409.9,724.1 1419.4,725.18 1428.9,726.34 1438.41,727.41 1447.91,728.62 1457.41,729.69 1466.92,730.32 1476.42,730.65 1485.92,730.98 1495.43,731.13 1504.93,730.93 1514.43,730.18 1523.93,729.05 1533.44,727.79 1542.94,726.87 1552.44,726.15 1561.95,725.58 1571.45,725.53 1580.95,725.74 1590.46,726.5" fill="none" stroke="#FF9800" stroke-width="2" stroke-linejoin="round"/>
<polyline points="9.9,769.82 12.96,771.82 22.46,775.38 31.96,775.05 41.47,773.61 50.97,773.49 60.47,771.65 69.98,770.1 79.48,768.4 88.98,764.53 98.48,760.96 107.99,759.49 117.49,758.45 126.99,760.19 136.5,760.48 146,760.07 155.5,758.64 165.01,763.75 174.51,774.89 184.01,783.53 193.51,791.91 203.02,786.65 212.52,786.45 222.02,783.5 231.53,779.8 241.03,776.63 250.53,776.53 260.04,775.96 269.54,777.99 279.04,776.11 288.55,772.37 298.05,766.36 307.55,760.48 317.05,755.49 326.56,750.67 336.06,746.59 345.56,742.61 355.07,737.54 364.57,734.61 374.07,733.36 383.57,731.89 393.08,730.01 402.58,728.89 412.08,723.77 421.59,718.92 431.09,715.24 440.59,712.05 450.1,709.1 459.6,706.93 469.1,706.07 478.61,708.21 488.11,710.22 497.61,713.04 507.11,712.88 516.62,713.9 526.12,714.42 535.62,715.07 545.13,715.34 554.63,715.03 564.13,715.18 573.63,716.4 583.14,716.08 592.64,715.94 602.14,715.39 611.65,715.77 621.15,715.74 630.65,717.63 640.16,717.97 649.66,719.82 659.16,721.47 668.66,723.34 678.17,723.65 687.67,722.48 697.17,721.85 706.68,720.37 716.18,718.84 725.68,717.1 735.19,716.21 744.69,715.12 754.19,713.32 763.7,713.39 773.2,713.88 782.7,713.63 792.2,713.45 801.71,714.1 811.21,714.65 820.71,715.98 830.22,716.82 839.72,716.97 849.22,717.37 858.73,717.75 868.23,718.26 877.73,717.82 887.23,717.65 896.74,717.18 906.24,717.06 915.74,717.7 925.25,718.65 934.75,720.29 944.25,724.05 953.75,725.11 963.26,726.87 972.76,727.32 982.26,727.99 991.77,727.5 1001.27,727.64 1010.77,726.2 1020.28,724.78 1029.78,723.72 1039.28,723.59 1048.78,723.7 1058.29,724.92 1067.79,726.34 1077.29,728.18 1086.8,727.65 1096.3,727.96 1105.8,727.79 1115.31,727.43 1124.81,726.86 1134.31,727.53 1143.82,729.23 1153.32,729.88 1162.82,729.31 1172.32,729.52 1181.83,729.36 1191.33,729.06 1200.83,728.55 1210.34,726.96 1219.84,726.05 1229.34,724.72 1238.85,724.11 1248.35,723.81 1257.85,723.35 1267.35,722.26 1276.86,720.93 1286.36,721.05 1295.86,721.86 1305.37,723.35 1314.87,723.94 1324.37,724.11 1333.88,723.81 1343.38,723.34 1352.88,723.02 1362.38,722.98 1371.89,722.65 1381.39,723.16 1390.89,722.83 1400.4,723.22 1409.9,727.97 1419.4,729.48 1428.9,730.98 1438.41,731.72 1447.91,733.43 1457.41,733.97 1466.92,732.85 1476.42,731.95 1485.92,732.3 1495.43,731.72 1504.93,730.17 1514.43,727.15 1523.93,724.53 1533.44,722.77 1542.94,723.18 1552.44,723.25 1561.95,723.29 1571.45,725.36 1580.95,726.58 1590.46,729.52" fill="none" stroke="#000" stroke-width="2" stroke-linejoin="round"/>
</g>
<text x="1752.4" y="37.1" font-size="15" fill="#131722" textLength="39" lengthAdjust="spacingAndGlyphs">80.00</text>
<text x="1752.4" y="100.2" font-size="15" fill="#131722" textLength="39" lengthAdjust="spacingAndGlyphs">40.00</text>
<text x="1752.4" y="167.6" font-size="15" fill="#131722" textLength="53.2" lengthAdjust="spacingAndGlyphs">7,600.0</text>
<text x="1752.4" y="208.47" font-size="15" fill="#131722" textLength="53.2" lengthAdjust="spacingAndGlyphs">7,400.0</text>
<text x="1752.4" y="249.33" font-size="15" fill="#131722" textLength="53.2" lengthAdjust="spacingAndGlyphs">7,200.0</text>
<text x="1752.4" y="290.2" font-size="15" fill="#131722" textLength="53.2" lengthAdjust="spacingAndGlyphs">7,000.0</text>
<text x="1752.4" y="412.8" font-size="15" fill="#131722" textLength="53.2" lengthAdjust="spacingAndGlyphs">6,400.0</text>
<text x="1752.4" y="453.66" font-size="15" fill="#131722" textLength="53.2" lengthAdjust="spacingAndGlyphs">6,200.0</text>
<text x="1752.4" y="494.53" font-size="15" fill="#131722" textLength="53.2" lengthAdjust="spacingAndGlyphs">6,000.0</text>
<text x="1752.4" y="535.39" font-size="15" fill="#131722" textLength="53.2" lengthAdjust="spacingAndGlyphs">5,800.0</text>
<text x="1752.4" y="576.26" font-size="15" fill="#131722" textLength="53.2" lengthAdjust="spacingAndGlyphs">5,600.0</text>
<text x="1752.4" y="617.13" font-size="15" fill="#131722" textLength="53.2" lengthAdjust="spacingAndGlyphs">5,400.0</text>
<text x="1752.4" y="657.99" font-size="15" fill="#131722" textLength="53.2" lengthAdjust="spacingAndGlyphs">5,200.0</text>
<g clip-path="url(#cpAxR)">
<text x="1752.6" y="803.8" font-size="15" fill="#131722" textLength="47" lengthAdjust="spacingAndGlyphs">−200.0</text>
<rect x="1742" y="688" width="47.5" height="21.7" fill="#FF9800"/>
<text x="1752" y="703.8" font-size="15" fill="#131722" font-weight="bold" textLength="29" lengthAdjust="spacingAndGlyphs">51.2</text>
</g>
<rect x="1742" y="71" width="56" height="22.4" fill="#787B86" rx="1.5"/>
<text x="1751.5" y="87.2" font-size="15" fill="#fff" font-weight="bold" textLength="39" lengthAdjust="spacingAndGlyphs">47.99</text>
<rect x="1742" y="309.8" width="69.6" height="21.2" fill="#089981" rx="1.5"/>
<text x="1752.4" y="325.4" font-size="15" fill="#fff" font-weight="bold" textLength="53.2" lengthAdjust="spacingAndGlyphs">6,761.0</text>
<rect x="1742" y="331.6" width="69.6" height="22.4" fill="#F23645" rx="1.5"/>
<text x="1752.4" y="347.8" font-size="15" fill="#fff" font-weight="bold" textLength="53.2" lengthAdjust="spacingAndGlyphs">6,720.3</text>
<rect x="1704.4" y="332.5" width="35.6" height="21.5" fill="#F23645" rx="1.5"/>
<text x="1709.5" y="348.25" font-size="15" fill="#fff" font-weight="bold" textLength="26" lengthAdjust="spacingAndGlyphs">SPX</text>
<rect x="1742" y="355" width="69.6" height="23" fill="#2962FF" rx="1.5"/>
<text x="1752.4" y="371.5" font-size="15" fill="#fff" font-weight="bold" textLength="53.2" lengthAdjust="spacingAndGlyphs">6,665.8</text>
<rect x="1742" y="453.1" width="69.8" height="22.6" fill="#F23645" rx="1.5"/>
<text x="1752.4" y="469.4" font-size="15" fill="#fff" font-weight="bold" textLength="53.2" lengthAdjust="spacingAndGlyphs">6,126.9</text>
<rect x="1742.3" y="607.6" width="58" height="21.7" fill="#000" rx="1.5"/>
<text x="1751.8" y="623.45" font-size="15" fill="#fff" textLength="42" lengthAdjust="spacingAndGlyphs">3.56 B</text>
<rect x="1742" y="710.5" width="47.5" height="21.8" fill="#000" rx="1.5"/>
<text x="1752" y="726.4" font-size="15" fill="#fff" font-weight="bold" textLength="29" lengthAdjust="spacingAndGlyphs">41.0</text>
<rect x="1742" y="733.8" width="55.7" height="21.7" fill="#2962FF" rx="1.5"/>
<text x="1751" y="749.65" font-size="15" fill="#fff" font-weight="bold" textLength="37" lengthAdjust="spacingAndGlyphs">−10.2</text>
<g clip-path="url(#cpTime)">
<text x="146" y="823.2" font-size="15" fill="#131722" font-weight="bold" text-anchor="middle">Apr</text>
<text x="345.56" y="823.2" font-size="15" fill="#131722" font-weight="bold" text-anchor="middle">May</text>
<text x="545.13" y="823.2" font-size="15" fill="#131722" font-weight="bold" text-anchor="middle">Jun</text>
<text x="735.19" y="823.2" font-size="15" fill="#131722" font-weight="bold" text-anchor="middle">Jul</text>
<text x="944.25" y="823.2" font-size="15" fill="#131722" font-weight="bold" text-anchor="middle">Aug</text>
<text x="1143.82" y="823.2" font-size="15" fill="#131722" font-weight="bold" text-anchor="middle">Sep</text>
<text x="1343.38" y="823.2" font-size="15" fill="#131722" font-weight="bold" text-anchor="middle">Oct</text>
<text x="1561.95" y="823.2" font-size="15" fill="#131722" font-weight="bold" text-anchor="middle">Nov</text>
<text x="1742.5" y="823.2" font-size="15" fill="#131722" font-weight="bold" text-anchor="middle">Dec</text>
</g>
<g fill="#131722">
<path d="M11.9,858.2 H23.8 V872.8 H18 V864 H11.9 Z"/>
<circle cx="29.2" cy="861" r="2.8"/>
<path d="M35.9,858.2 H41.7 L35.7,872.8 H29.2 Z"/>
</g>
<text x="48.9" y="872.8" font-size="20" fill="#131722" font-weight="bold" textLength="121" lengthAdjust="spacingAndGlyphs">TradingView</text>
</svg>
</body></html>
